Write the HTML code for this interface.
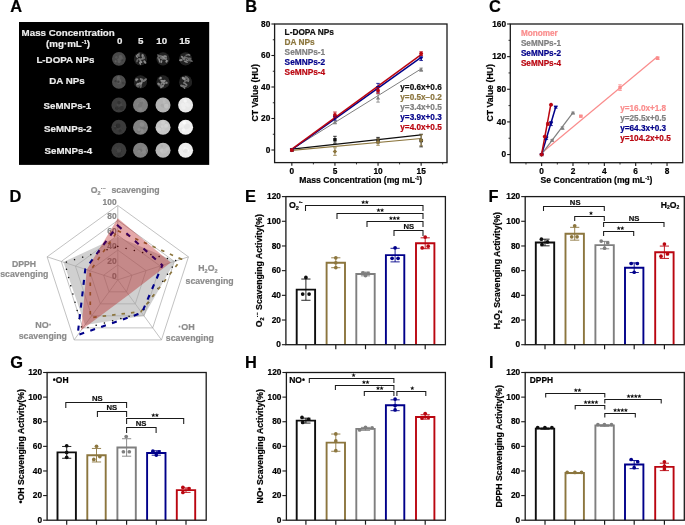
<!DOCTYPE html><html><head><meta charset="utf-8"><style>html,body{margin:0;padding:0;background:#fff;width:685px;height:525px;overflow:hidden}svg{display:block;will-change:transform}</style></head><body><svg width="685" height="525" viewBox="0 0 685 525" font-family='"Liberation Sans", sans-serif'>
<defs><filter id="blur1" x="-30%" y="-30%" width="160%" height="160%"><feGaussianBlur stdDeviation="0.6"/></filter><filter id="blur3" x="-30%" y="-30%" width="160%" height="160%"><feGaussianBlur stdDeviation="0.75"/></filter><filter id="blur2" x="-30%" y="-30%" width="160%" height="160%"><feGaussianBlur stdDeviation="0.55"/></filter></defs>
<rect width="685" height="525" fill="#fff"/>
<rect x="19" y="22" width="190.2" height="142.9" fill="#000"/>
<text x="68.20" y="36.00" font-size="9.75" fill="#ececec" text-anchor="middle" font-weight="bold"  stroke="#ececec" stroke-width="0.2">Mass Concentration</text>
<text x="68" y="47.3" font-size="9.75" fill="#ececec" text-anchor="middle" font-weight="bold" stroke="#ececec" stroke-width="0.2">(mg·mL<tspan font-size="5.5" dy="-3.5">-1</tspan><tspan dy="3.5">)</tspan></text>
<text x="119.60" y="44.40" font-size="9.75" fill="#ececec" text-anchor="middle" font-weight="bold"  stroke="#ececec" stroke-width="0.2">0</text>
<text x="140.60" y="44.40" font-size="9.75" fill="#ececec" text-anchor="middle" font-weight="bold"  stroke="#ececec" stroke-width="0.2">5</text>
<text x="161.70" y="44.40" font-size="9.75" fill="#ececec" text-anchor="middle" font-weight="bold"  stroke="#ececec" stroke-width="0.2">10</text>
<text x="184.60" y="44.40" font-size="9.75" fill="#ececec" text-anchor="middle" font-weight="bold"  stroke="#ececec" stroke-width="0.2">15</text>
<text x="65.40" y="62.80" font-size="9.75" fill="#ececec" text-anchor="middle" font-weight="bold"  stroke="#ececec" stroke-width="0.2">L-DOPA NPs</text>
<text x="67.00" y="84.10" font-size="9.75" fill="#ececec" text-anchor="middle" font-weight="bold"  stroke="#ececec" stroke-width="0.2">DA NPs</text>
<text x="67.40" y="108.90" font-size="9.75" fill="#ececec" text-anchor="middle" font-weight="bold"  stroke="#ececec" stroke-width="0.2">SeMNPs-1</text>
<text x="67.90" y="131.90" font-size="9.75" fill="#ececec" text-anchor="middle" font-weight="bold"  stroke="#ececec" stroke-width="0.2">SeMNPs-2</text>
<text x="68.30" y="154.20" font-size="9.75" fill="#ececec" text-anchor="middle" font-weight="bold"  stroke="#ececec" stroke-width="0.2">SeMNPs-4</text>
<g filter="url(#blur2)"><circle cx="118.9" cy="58.8" r="6.9" fill="rgb(74,74,74)"/>
<circle cx="119.1" cy="61.5" r="1.5" fill="rgb(94,94,94)"/>
<circle cx="116.3" cy="57.3" r="1.2" fill="rgb(87,87,87)"/>
<circle cx="121.3" cy="58.7" r="1.9" fill="rgb(88,88,88)"/>
<circle cx="119.0" cy="59.6" r="1.7" fill="rgb(92,92,92)"/>
<circle cx="122.4" cy="60.3" r="1.0" fill="rgb(60,60,60)"/>
<circle cx="120.5" cy="57.0" r="1.9" fill="rgb(92,92,92)"/>
<circle cx="115.7" cy="61.3" r="1.1" fill="rgb(95,95,95)"/>
</g>
<g filter="url(#blur2)"><circle cx="140.5" cy="58.8" r="6.6" fill="rgb(34,34,34)"/>
<ellipse cx="139.8" cy="59.6" rx="2.0" ry="1.1" transform="rotate(46 139.8 59.6)" fill="rgb(119,119,119)"/>
<ellipse cx="142.7" cy="55.9" rx="1.8" ry="0.9" transform="rotate(103 142.7 55.9)" fill="rgb(136,136,136)"/>
<ellipse cx="140.9" cy="62.0" rx="1.5" ry="1.0" transform="rotate(5 140.9 62.0)" fill="rgb(140,140,140)"/>
<ellipse cx="138.9" cy="54.4" rx="1.9" ry="0.8" transform="rotate(98 138.9 54.4)" fill="rgb(111,111,111)"/>
<ellipse cx="138.0" cy="55.1" rx="1.3" ry="0.9" transform="rotate(48 138.0 55.1)" fill="rgb(144,144,144)"/>
<ellipse cx="138.0" cy="55.8" rx="2.3" ry="0.7" transform="rotate(12 138.0 55.8)" fill="rgb(112,112,112)"/>
<ellipse cx="137.3" cy="60.4" rx="2.1" ry="0.9" transform="rotate(109 137.3 60.4)" fill="rgb(100,100,100)"/>
<ellipse cx="136.9" cy="56.7" rx="1.5" ry="0.7" transform="rotate(50 136.9 56.7)" fill="rgb(141,141,141)"/>
<ellipse cx="142.3" cy="58.9" rx="2.4" ry="0.8" transform="rotate(171 142.3 58.9)" fill="rgb(121,121,121)"/>
<ellipse cx="140.1" cy="63.4" rx="1.6" ry="0.8" transform="rotate(61 140.1 63.4)" fill="rgb(143,143,143)"/>
<ellipse cx="142.7" cy="56.2" rx="2.2" ry="1.0" transform="rotate(70 142.7 56.2)" fill="rgb(138,138,138)"/>
<ellipse cx="144.9" cy="62.1" rx="2.0" ry="1.1" transform="rotate(49 144.9 62.1)" fill="rgb(135,135,135)"/>
<ellipse cx="143.9" cy="57.4" rx="1.6" ry="1.1" transform="rotate(55 143.9 57.4)" fill="rgb(107,107,107)"/>
</g>
<g filter="url(#blur2)"><circle cx="163.0" cy="58.8" r="6.6" fill="rgb(34,34,34)"/>
<ellipse cx="166.1" cy="58.6" rx="1.4" ry="1.0" transform="rotate(106 166.1 58.6)" fill="rgb(113,113,113)"/>
<ellipse cx="161.4" cy="61.7" rx="1.5" ry="0.9" transform="rotate(110 161.4 61.7)" fill="rgb(140,140,140)"/>
<ellipse cx="158.4" cy="55.9" rx="2.0" ry="0.8" transform="rotate(66 158.4 55.9)" fill="rgb(96,96,96)"/>
<ellipse cx="161.1" cy="57.4" rx="2.2" ry="0.8" transform="rotate(136 161.1 57.4)" fill="rgb(104,104,104)"/>
<ellipse cx="163.4" cy="57.0" rx="2.0" ry="0.8" transform="rotate(175 163.4 57.0)" fill="rgb(135,135,135)"/>
<ellipse cx="158.5" cy="58.8" rx="2.0" ry="1.0" transform="rotate(59 158.5 58.8)" fill="rgb(108,108,108)"/>
<ellipse cx="166.6" cy="61.3" rx="1.5" ry="1.1" transform="rotate(121 166.6 61.3)" fill="rgb(142,142,142)"/>
<ellipse cx="164.5" cy="58.4" rx="1.9" ry="0.8" transform="rotate(39 164.5 58.4)" fill="rgb(132,132,132)"/>
<ellipse cx="163.2" cy="57.8" rx="2.2" ry="1.0" transform="rotate(57 163.2 57.8)" fill="rgb(142,142,142)"/>
<ellipse cx="165.1" cy="56.3" rx="1.9" ry="1.0" transform="rotate(15 165.1 56.3)" fill="rgb(136,136,136)"/>
<ellipse cx="159.5" cy="60.7" rx="2.0" ry="0.8" transform="rotate(84 159.5 60.7)" fill="rgb(137,137,137)"/>
<ellipse cx="162.0" cy="58.4" rx="1.8" ry="1.1" transform="rotate(36 162.0 58.4)" fill="rgb(115,115,115)"/>
<ellipse cx="160.1" cy="56.0" rx="2.1" ry="0.7" transform="rotate(177 160.1 56.0)" fill="rgb(122,122,122)"/>
</g>
<g filter="url(#blur2)"><circle cx="185.6" cy="58.8" r="6.6" fill="rgb(34,34,34)"/>
<ellipse cx="180.9" cy="60.1" rx="1.9" ry="1.1" transform="rotate(173 180.9 60.1)" fill="rgb(132,132,132)"/>
<ellipse cx="188.9" cy="54.8" rx="1.5" ry="0.7" transform="rotate(22 188.9 54.8)" fill="rgb(143,143,143)"/>
<ellipse cx="186.9" cy="55.0" rx="1.7" ry="0.7" transform="rotate(159 186.9 55.0)" fill="rgb(104,104,104)"/>
<ellipse cx="183.7" cy="59.0" rx="1.2" ry="1.0" transform="rotate(43 183.7 59.0)" fill="rgb(120,120,120)"/>
<ellipse cx="190.7" cy="60.6" rx="2.4" ry="1.0" transform="rotate(23 190.7 60.6)" fill="rgb(100,100,100)"/>
<ellipse cx="186.1" cy="57.5" rx="2.3" ry="0.8" transform="rotate(22 186.1 57.5)" fill="rgb(106,106,106)"/>
<ellipse cx="185.8" cy="61.7" rx="2.3" ry="0.9" transform="rotate(23 185.8 61.7)" fill="rgb(139,139,139)"/>
<ellipse cx="182.4" cy="57.3" rx="1.9" ry="1.0" transform="rotate(45 182.4 57.3)" fill="rgb(132,132,132)"/>
<ellipse cx="188.6" cy="59.8" rx="2.1" ry="0.7" transform="rotate(154 188.6 59.8)" fill="rgb(135,135,135)"/>
<ellipse cx="189.3" cy="60.0" rx="1.8" ry="0.9" transform="rotate(128 189.3 60.0)" fill="rgb(96,96,96)"/>
<ellipse cx="186.4" cy="60.1" rx="1.6" ry="0.8" transform="rotate(70 186.4 60.1)" fill="rgb(114,114,114)"/>
<ellipse cx="189.3" cy="58.5" rx="2.1" ry="1.1" transform="rotate(1 189.3 58.5)" fill="rgb(101,101,101)"/>
<ellipse cx="184.5" cy="58.3" rx="1.8" ry="1.0" transform="rotate(117 184.5 58.3)" fill="rgb(118,118,118)"/>
</g>
<g filter="url(#blur2)"><circle cx="118.9" cy="81.9" r="6.9" fill="rgb(78,78,78)"/>
<circle cx="123.2" cy="83.1" r="1.5" fill="rgb(63,63,63)"/>
<circle cx="118.3" cy="79.9" r="1.2" fill="rgb(93,93,93)"/>
<circle cx="115.5" cy="81.1" r="1.2" fill="rgb(58,58,58)"/>
<circle cx="119.0" cy="82.0" r="1.9" fill="rgb(92,92,92)"/>
<circle cx="119.2" cy="80.6" r="1.9" fill="rgb(96,96,96)"/>
<circle cx="118.4" cy="77.7" r="1.7" fill="rgb(96,96,96)"/>
<circle cx="118.4" cy="81.7" r="1.2" fill="rgb(62,62,62)"/>
</g>
<g filter="url(#blur2)"><circle cx="140.5" cy="81.9" r="6.6" fill="rgb(34,34,34)"/>
<ellipse cx="137.4" cy="84.5" rx="1.7" ry="1.1" transform="rotate(119 137.4 84.5)" fill="rgb(123,123,123)"/>
<ellipse cx="137.7" cy="86.2" rx="1.8" ry="1.0" transform="rotate(21 137.7 86.2)" fill="rgb(96,96,96)"/>
<ellipse cx="139.8" cy="84.9" rx="1.9" ry="1.0" transform="rotate(179 139.8 84.9)" fill="rgb(99,99,99)"/>
<ellipse cx="140.8" cy="86.1" rx="1.9" ry="1.1" transform="rotate(100 140.8 86.1)" fill="rgb(99,99,99)"/>
<ellipse cx="141.2" cy="83.3" rx="1.7" ry="1.1" transform="rotate(116 141.2 83.3)" fill="rgb(144,144,144)"/>
<ellipse cx="143.1" cy="80.9" rx="1.9" ry="1.2" transform="rotate(169 143.1 80.9)" fill="rgb(124,124,124)"/>
<ellipse cx="138.6" cy="83.8" rx="2.4" ry="0.9" transform="rotate(152 138.6 83.8)" fill="rgb(141,141,141)"/>
<ellipse cx="136.6" cy="80.1" rx="1.4" ry="0.9" transform="rotate(123 136.6 80.1)" fill="rgb(141,141,141)"/>
<ellipse cx="142.2" cy="80.4" rx="2.0" ry="1.2" transform="rotate(87 142.2 80.4)" fill="rgb(119,119,119)"/>
<ellipse cx="136.1" cy="79.2" rx="1.4" ry="1.0" transform="rotate(135 136.1 79.2)" fill="rgb(101,101,101)"/>
<ellipse cx="145.2" cy="79.8" rx="2.0" ry="1.1" transform="rotate(140 145.2 79.8)" fill="rgb(121,121,121)"/>
<ellipse cx="137.0" cy="79.5" rx="1.6" ry="0.8" transform="rotate(160 137.0 79.5)" fill="rgb(144,144,144)"/>
<ellipse cx="141.3" cy="79.5" rx="1.8" ry="1.1" transform="rotate(43 141.3 79.5)" fill="rgb(123,123,123)"/>
</g>
<g filter="url(#blur2)"><circle cx="163.0" cy="81.9" r="6.6" fill="rgb(34,34,34)"/>
<ellipse cx="158.9" cy="84.2" rx="1.9" ry="1.2" transform="rotate(37 158.9 84.2)" fill="rgb(130,130,130)"/>
<ellipse cx="162.5" cy="81.1" rx="2.3" ry="1.1" transform="rotate(13 162.5 81.1)" fill="rgb(144,144,144)"/>
<ellipse cx="163.9" cy="81.1" rx="2.0" ry="1.1" transform="rotate(160 163.9 81.1)" fill="rgb(140,140,140)"/>
<ellipse cx="165.4" cy="83.0" rx="2.1" ry="0.8" transform="rotate(160 165.4 83.0)" fill="rgb(107,107,107)"/>
<ellipse cx="159.7" cy="78.7" rx="1.4" ry="0.7" transform="rotate(168 159.7 78.7)" fill="rgb(96,96,96)"/>
<ellipse cx="163.7" cy="83.4" rx="1.5" ry="1.2" transform="rotate(21 163.7 83.4)" fill="rgb(134,134,134)"/>
<ellipse cx="166.7" cy="82.7" rx="1.2" ry="0.9" transform="rotate(61 166.7 82.7)" fill="rgb(131,131,131)"/>
<ellipse cx="161.9" cy="83.0" rx="1.8" ry="0.8" transform="rotate(134 161.9 83.0)" fill="rgb(127,127,127)"/>
<ellipse cx="160.8" cy="86.7" rx="1.7" ry="1.0" transform="rotate(78 160.8 86.7)" fill="rgb(98,98,98)"/>
<ellipse cx="163.0" cy="86.0" rx="1.6" ry="0.9" transform="rotate(122 163.0 86.0)" fill="rgb(130,130,130)"/>
<ellipse cx="160.6" cy="78.0" rx="1.3" ry="1.2" transform="rotate(147 160.6 78.0)" fill="rgb(142,142,142)"/>
<ellipse cx="160.8" cy="85.5" rx="1.8" ry="0.7" transform="rotate(120 160.8 85.5)" fill="rgb(121,121,121)"/>
<ellipse cx="161.7" cy="86.5" rx="2.1" ry="0.8" transform="rotate(116 161.7 86.5)" fill="rgb(132,132,132)"/>
</g>
<g filter="url(#blur2)"><circle cx="185.6" cy="81.9" r="6.6" fill="rgb(34,34,34)"/>
<ellipse cx="181.9" cy="85.8" rx="1.9" ry="1.2" transform="rotate(19 181.9 85.8)" fill="rgb(117,117,117)"/>
<ellipse cx="182.8" cy="78.3" rx="1.4" ry="0.9" transform="rotate(54 182.8 78.3)" fill="rgb(116,116,116)"/>
<ellipse cx="186.5" cy="77.3" rx="1.9" ry="1.0" transform="rotate(33 186.5 77.3)" fill="rgb(100,100,100)"/>
<ellipse cx="184.2" cy="83.0" rx="1.4" ry="0.9" transform="rotate(10 184.2 83.0)" fill="rgb(108,108,108)"/>
<ellipse cx="185.0" cy="86.5" rx="2.3" ry="0.9" transform="rotate(158 185.0 86.5)" fill="rgb(120,120,120)"/>
<ellipse cx="186.1" cy="80.5" rx="1.4" ry="1.0" transform="rotate(179 186.1 80.5)" fill="rgb(119,119,119)"/>
<ellipse cx="183.8" cy="78.1" rx="2.0" ry="1.0" transform="rotate(20 183.8 78.1)" fill="rgb(140,140,140)"/>
<ellipse cx="183.9" cy="78.8" rx="1.9" ry="1.1" transform="rotate(23 183.9 78.8)" fill="rgb(144,144,144)"/>
<ellipse cx="186.8" cy="78.0" rx="2.2" ry="0.9" transform="rotate(32 186.8 78.0)" fill="rgb(103,103,103)"/>
<ellipse cx="184.2" cy="86.9" rx="2.2" ry="0.9" transform="rotate(73 184.2 86.9)" fill="rgb(117,117,117)"/>
<ellipse cx="188.2" cy="80.2" rx="2.0" ry="1.1" transform="rotate(95 188.2 80.2)" fill="rgb(119,119,119)"/>
<ellipse cx="185.1" cy="81.1" rx="1.3" ry="1.1" transform="rotate(114 185.1 81.1)" fill="rgb(104,104,104)"/>
<ellipse cx="185.8" cy="84.2" rx="2.1" ry="0.8" transform="rotate(36 185.8 84.2)" fill="rgb(126,126,126)"/>
</g>
<g filter="url(#blur3)"><circle cx="118.9" cy="105.0" r="7.5" fill="rgb(60,60,60)"/>
<circle cx="120.6" cy="100.9" r="1.6" fill="rgb(65,65,65)"/>
<circle cx="118.5" cy="104.4" r="2.0" fill="rgb(71,71,71)"/>
<circle cx="120.5" cy="105.5" r="1.8" fill="rgb(50,50,50)"/>
<circle cx="120.5" cy="105.2" r="2.1" fill="rgb(71,71,71)"/>
<circle cx="121.6" cy="108.1" r="2.2" fill="rgb(49,49,49)"/>
<circle cx="116.8" cy="108.2" r="1.8" fill="rgb(48,48,48)"/>
<circle cx="119.0" cy="102.7" r="1.7" fill="rgb(48,48,48)"/>
</g>
<g filter="url(#blur3)"><circle cx="140.5" cy="105.0" r="7.5" fill="rgb(126,126,126)"/>
<circle cx="142.4" cy="102.2" r="2.1" fill="rgb(134,134,134)"/>
<circle cx="138.5" cy="104.5" r="1.8" fill="rgb(133,133,133)"/>
<circle cx="140.6" cy="103.1" r="1.2" fill="rgb(117,117,117)"/>
<circle cx="140.3" cy="109.1" r="2.0" fill="rgb(135,135,135)"/>
<circle cx="140.5" cy="105.0" r="1.7" fill="rgb(118,118,118)"/>
<circle cx="142.1" cy="103.0" r="1.4" fill="rgb(119,119,119)"/>
<circle cx="139.8" cy="105.5" r="2.0" fill="rgb(119,119,119)"/>
</g>
<g filter="url(#blur3)"><circle cx="163.0" cy="105.0" r="7.5" fill="rgb(180,180,180)"/>
<circle cx="162.2" cy="105.3" r="1.6" fill="rgb(171,171,171)"/>
<circle cx="166.4" cy="105.7" r="1.7" fill="rgb(171,171,171)"/>
<circle cx="167.6" cy="105.8" r="1.7" fill="rgb(173,173,173)"/>
<circle cx="163.6" cy="106.5" r="1.4" fill="rgb(172,172,172)"/>
<circle cx="166.3" cy="106.1" r="2.4" fill="rgb(192,192,192)"/>
<circle cx="164.1" cy="100.5" r="1.5" fill="rgb(186,186,186)"/>
<circle cx="164.2" cy="102.2" r="1.3" fill="rgb(187,187,187)"/>
</g>
<g filter="url(#blur3)"><circle cx="185.6" cy="105.0" r="7.5" fill="rgb(232,232,232)"/>
<circle cx="185.2" cy="105.2" r="2.1" fill="rgb(226,226,226)"/>
<circle cx="188.0" cy="105.3" r="2.1" fill="rgb(237,237,237)"/>
<circle cx="186.4" cy="104.4" r="1.8" fill="rgb(239,239,239)"/>
<circle cx="183.7" cy="107.5" r="2.0" fill="rgb(239,239,239)"/>
<circle cx="186.0" cy="104.9" r="1.7" fill="rgb(238,238,238)"/>
<circle cx="183.0" cy="104.9" r="2.2" fill="rgb(238,238,238)"/>
<circle cx="185.2" cy="101.0" r="1.7" fill="rgb(244,244,244)"/>
</g>
<g filter="url(#blur3)"><circle cx="118.9" cy="127.2" r="7.5" fill="rgb(58,58,58)"/>
<circle cx="118.0" cy="127.8" r="2.3" fill="rgb(65,65,65)"/>
<circle cx="115.3" cy="127.0" r="1.3" fill="rgb(70,70,70)"/>
<circle cx="120.6" cy="130.4" r="2.1" fill="rgb(63,63,63)"/>
<circle cx="118.1" cy="125.9" r="2.3" fill="rgb(45,45,45)"/>
<circle cx="114.8" cy="128.5" r="1.2" fill="rgb(70,70,70)"/>
<circle cx="120.2" cy="130.8" r="1.6" fill="rgb(50,50,50)"/>
<circle cx="115.1" cy="128.4" r="1.3" fill="rgb(51,51,51)"/>
</g>
<g filter="url(#blur3)"><circle cx="140.5" cy="127.2" r="7.5" fill="rgb(130,130,130)"/>
<circle cx="142.3" cy="129.7" r="1.6" fill="rgb(124,124,124)"/>
<circle cx="141.5" cy="131.1" r="2.4" fill="rgb(139,139,139)"/>
<circle cx="138.7" cy="131.0" r="2.0" fill="rgb(121,121,121)"/>
<circle cx="144.2" cy="128.2" r="1.3" fill="rgb(118,118,118)"/>
<circle cx="141.6" cy="126.8" r="1.5" fill="rgb(121,121,121)"/>
<circle cx="141.9" cy="124.6" r="2.3" fill="rgb(141,141,141)"/>
<circle cx="138.9" cy="129.6" r="1.6" fill="rgb(141,141,141)"/>
</g>
<g filter="url(#blur3)"><circle cx="163.0" cy="127.2" r="7.5" fill="rgb(198,198,198)"/>
<circle cx="165.0" cy="126.5" r="1.9" fill="rgb(204,204,204)"/>
<circle cx="159.6" cy="128.0" r="1.4" fill="rgb(190,190,190)"/>
<circle cx="163.1" cy="122.8" r="2.0" fill="rgb(206,206,206)"/>
<circle cx="162.2" cy="126.6" r="1.3" fill="rgb(209,209,209)"/>
<circle cx="163.2" cy="129.3" r="1.4" fill="rgb(204,204,204)"/>
<circle cx="166.2" cy="125.7" r="1.9" fill="rgb(210,210,210)"/>
<circle cx="159.0" cy="129.4" r="2.2" fill="rgb(206,206,206)"/>
</g>
<g filter="url(#blur3)"><circle cx="185.6" cy="127.2" r="7.5" fill="rgb(240,240,240)"/>
<circle cx="181.6" cy="129.8" r="2.4" fill="rgb(232,232,232)"/>
<circle cx="185.8" cy="127.6" r="1.9" fill="rgb(232,232,232)"/>
<circle cx="185.5" cy="127.1" r="1.8" fill="rgb(232,232,232)"/>
<circle cx="183.6" cy="130.1" r="1.8" fill="rgb(246,246,246)"/>
<circle cx="187.4" cy="126.0" r="2.2" fill="rgb(233,233,233)"/>
<circle cx="184.2" cy="122.7" r="1.8" fill="rgb(252,252,252)"/>
<circle cx="187.7" cy="126.4" r="2.3" fill="rgb(232,232,232)"/>
</g>
<g filter="url(#blur3)"><circle cx="118.9" cy="150.3" r="7.5" fill="rgb(58,58,58)"/>
<circle cx="118.4" cy="152.5" r="1.6" fill="rgb(69,69,69)"/>
<circle cx="119.1" cy="154.2" r="2.0" fill="rgb(52,52,52)"/>
<circle cx="119.0" cy="150.4" r="2.5" fill="rgb(52,52,52)"/>
<circle cx="119.4" cy="148.7" r="1.2" fill="rgb(70,70,70)"/>
<circle cx="118.9" cy="150.4" r="2.3" fill="rgb(70,70,70)"/>
<circle cx="115.8" cy="147.9" r="1.5" fill="rgb(65,65,65)"/>
<circle cx="119.5" cy="148.4" r="1.2" fill="rgb(65,65,65)"/>
</g>
<g filter="url(#blur3)"><circle cx="140.5" cy="150.3" r="7.5" fill="rgb(128,128,128)"/>
<circle cx="145.1" cy="151.4" r="2.3" fill="rgb(115,115,115)"/>
<circle cx="140.5" cy="151.0" r="2.3" fill="rgb(137,137,137)"/>
<circle cx="139.2" cy="149.9" r="1.8" fill="rgb(122,122,122)"/>
<circle cx="144.1" cy="151.8" r="2.1" fill="rgb(136,136,136)"/>
<circle cx="144.0" cy="148.6" r="2.0" fill="rgb(135,135,135)"/>
<circle cx="140.4" cy="150.6" r="1.9" fill="rgb(115,115,115)"/>
<circle cx="139.1" cy="151.2" r="1.5" fill="rgb(135,135,135)"/>
</g>
<g filter="url(#blur3)"><circle cx="163.0" cy="150.3" r="7.5" fill="rgb(184,184,184)"/>
<circle cx="162.5" cy="152.8" r="1.2" fill="rgb(190,190,190)"/>
<circle cx="161.9" cy="150.4" r="2.0" fill="rgb(196,196,196)"/>
<circle cx="165.7" cy="150.8" r="1.6" fill="rgb(175,175,175)"/>
<circle cx="161.9" cy="146.1" r="1.3" fill="rgb(175,175,175)"/>
<circle cx="165.3" cy="150.8" r="2.4" fill="rgb(190,190,190)"/>
<circle cx="163.8" cy="152.0" r="1.6" fill="rgb(191,191,191)"/>
<circle cx="167.3" cy="148.9" r="1.9" fill="rgb(193,193,193)"/>
</g>
<g filter="url(#blur3)"><circle cx="185.6" cy="150.3" r="7.5" fill="rgb(238,238,238)"/>
<circle cx="187.6" cy="150.7" r="1.3" fill="rgb(250,250,250)"/>
<circle cx="185.7" cy="151.3" r="1.3" fill="rgb(227,227,227)"/>
<circle cx="185.2" cy="149.9" r="2.5" fill="rgb(225,225,225)"/>
<circle cx="184.9" cy="148.4" r="1.6" fill="rgb(246,246,246)"/>
<circle cx="184.8" cy="150.0" r="1.4" fill="rgb(250,250,250)"/>
<circle cx="186.3" cy="149.8" r="2.0" fill="rgb(248,248,248)"/>
<circle cx="185.8" cy="150.5" r="2.0" fill="rgb(230,230,230)"/>
</g>
<text x="360.8" y="182.8" font-size="8.6" text-anchor="middle" font-weight="bold" stroke="#000" stroke-width="0.2">Mass Concentration (mg mL<tspan font-size="5" dy="-3.2">-1</tspan><tspan dy="3.2">)</tspan></text>
<text transform="translate(257.6,92.9) rotate(-90)" x="0" y="0" font-size="8.7" text-anchor="middle" font-weight="bold" stroke="#000" stroke-width="0.2">CT Value (HU)</text>
<text x="284.60" y="34.60" font-size="8.3" fill="#0e0e0e" text-anchor="start" font-weight="bold"  stroke="#0e0e0e" stroke-width="0.2">L-DOPA NPs</text>
<text x="284.60" y="44.70" font-size="8.3" fill="#8c763e" text-anchor="start" font-weight="bold"  stroke="#8c763e" stroke-width="0.2">DA NPs</text>
<text x="284.60" y="54.80" font-size="8.3" fill="#7f7f7f" text-anchor="start" font-weight="bold"  stroke="#7f7f7f" stroke-width="0.2">SeMNPs-1</text>
<text x="284.60" y="64.90" font-size="8.3" fill="#00008a" text-anchor="start" font-weight="bold"  stroke="#00008a" stroke-width="0.2">SeMNPs-2</text>
<text x="284.60" y="75.00" font-size="8.3" fill="#ba0610" text-anchor="start" font-weight="bold"  stroke="#ba0610" stroke-width="0.2">SeMNPs-4</text>
<text x="400.30" y="89.80" font-size="8.2" fill="#0e0e0e" text-anchor="start" font-weight="bold"  stroke="#0e0e0e" stroke-width="0.2">y=0.6x+0.6</text>
<text x="400.30" y="99.80" font-size="8.2" fill="#8c763e" text-anchor="start" font-weight="bold"  stroke="#8c763e" stroke-width="0.2">y=0.5x−0.2</text>
<text x="400.30" y="109.80" font-size="8.2" fill="#7f7f7f" text-anchor="start" font-weight="bold"  stroke="#7f7f7f" stroke-width="0.2">y=3.4x+0.5</text>
<text x="400.30" y="119.80" font-size="8.2" fill="#00008a" text-anchor="start" font-weight="bold"  stroke="#00008a" stroke-width="0.2">y=3.9x+0.3</text>
<text x="400.30" y="129.80" font-size="8.2" fill="#ba0610" text-anchor="start" font-weight="bold"  stroke="#ba0610" stroke-width="0.2">y=4.0x+0.5</text>
<line x1="291.84" y1="149.06" x2="421.14" y2="134.88" stroke="#0e0e0e" stroke-width="1.2" />
<line x1="291.84" y1="150.31" x2="421.14" y2="138.50" stroke="#8c763e" stroke-width="1.2" />
<line x1="291.84" y1="149.21" x2="421.14" y2="68.89" stroke="#7f7f7f" stroke-width="1.0" />
<line x1="291.84" y1="149.53" x2="421.14" y2="57.39" stroke="#00008a" stroke-width="1.5" />
<line x1="291.84" y1="149.21" x2="421.14" y2="54.71" stroke="#ba0610" stroke-width="1.5" />
<line x1="291.84" y1="150.79" x2="291.84" y2="149.21" stroke="#0e0e0e" stroke-width="0.8" />
<line x1="290.04" y1="150.79" x2="293.64" y2="150.79" stroke="#0e0e0e" stroke-width="0.8" />
<line x1="290.04" y1="149.21" x2="293.64" y2="149.21" stroke="#0e0e0e" stroke-width="0.8" />
<rect x="290.14" y="148.30" width="3.40" height="3.40" fill="#0e0e0e"/>
<line x1="334.94" y1="143.23" x2="334.94" y2="136.30" stroke="#0e0e0e" stroke-width="0.8" />
<line x1="333.14" y1="143.23" x2="336.74" y2="143.23" stroke="#0e0e0e" stroke-width="0.8" />
<line x1="333.14" y1="136.30" x2="336.74" y2="136.30" stroke="#0e0e0e" stroke-width="0.8" />
<rect x="333.24" y="138.06" width="3.40" height="3.40" fill="#0e0e0e"/>
<line x1="378.04" y1="143.07" x2="378.04" y2="137.40" stroke="#0e0e0e" stroke-width="0.8" />
<line x1="376.24" y1="143.07" x2="379.84" y2="143.07" stroke="#0e0e0e" stroke-width="0.8" />
<line x1="376.24" y1="137.40" x2="379.84" y2="137.40" stroke="#0e0e0e" stroke-width="0.8" />
<rect x="376.34" y="138.53" width="3.40" height="3.40" fill="#0e0e0e"/>
<line x1="421.14" y1="146.85" x2="421.14" y2="134.25" stroke="#0e0e0e" stroke-width="0.8" />
<line x1="419.34" y1="146.85" x2="422.94" y2="146.85" stroke="#0e0e0e" stroke-width="0.8" />
<line x1="419.34" y1="134.25" x2="422.94" y2="134.25" stroke="#0e0e0e" stroke-width="0.8" />
<rect x="419.44" y="138.85" width="3.40" height="3.40" fill="#0e0e0e"/>
<line x1="291.84" y1="150.79" x2="291.84" y2="149.21" stroke="#8c763e" stroke-width="0.8" />
<line x1="290.04" y1="150.79" x2="293.64" y2="150.79" stroke="#8c763e" stroke-width="0.8" />
<line x1="290.04" y1="149.21" x2="293.64" y2="149.21" stroke="#8c763e" stroke-width="0.8" />
<path d="M291.84 147.79L294.05 150.00L291.84 152.21L289.63 150.00Z" fill="#8c763e"/>
<line x1="334.94" y1="155.35" x2="334.94" y2="147.79" stroke="#8c763e" stroke-width="0.8" />
<line x1="333.14" y1="155.35" x2="336.74" y2="155.35" stroke="#8c763e" stroke-width="0.8" />
<line x1="333.14" y1="147.79" x2="336.74" y2="147.79" stroke="#8c763e" stroke-width="0.8" />
<path d="M334.94 149.36L337.15 151.57L334.94 153.78L332.73 151.57Z" fill="#8c763e"/>
<line x1="378.04" y1="145.28" x2="378.04" y2="138.97" stroke="#8c763e" stroke-width="0.8" />
<line x1="376.24" y1="145.28" x2="379.84" y2="145.28" stroke="#8c763e" stroke-width="0.8" />
<line x1="376.24" y1="138.97" x2="379.84" y2="138.97" stroke="#8c763e" stroke-width="0.8" />
<path d="M378.04 139.91L380.25 142.12L378.04 144.34L375.83 142.12Z" fill="#8c763e"/>
<line x1="421.14" y1="145.75" x2="421.14" y2="134.72" stroke="#8c763e" stroke-width="0.8" />
<line x1="419.34" y1="145.75" x2="422.94" y2="145.75" stroke="#8c763e" stroke-width="0.8" />
<line x1="419.34" y1="134.72" x2="422.94" y2="134.72" stroke="#8c763e" stroke-width="0.8" />
<path d="M421.14 138.02L423.35 140.23L421.14 142.44L418.93 140.23Z" fill="#8c763e"/>
<line x1="291.84" y1="150.79" x2="291.84" y2="149.21" stroke="#7f7f7f" stroke-width="0.8" />
<line x1="290.04" y1="150.79" x2="293.64" y2="150.79" stroke="#7f7f7f" stroke-width="0.8" />
<line x1="290.04" y1="149.21" x2="293.64" y2="149.21" stroke="#7f7f7f" stroke-width="0.8" />
<path d="M291.84 147.88L293.97 151.59L289.72 151.59Z" fill="#7f7f7f"/>
<line x1="334.94" y1="123.85" x2="334.94" y2="120.70" stroke="#7f7f7f" stroke-width="0.8" />
<line x1="333.14" y1="123.85" x2="336.74" y2="123.85" stroke="#7f7f7f" stroke-width="0.8" />
<line x1="333.14" y1="120.70" x2="336.74" y2="120.70" stroke="#7f7f7f" stroke-width="0.8" />
<path d="M334.94 120.16L337.06 123.87L332.81 123.87Z" fill="#7f7f7f"/>
<line x1="378.04" y1="102.12" x2="378.04" y2="93.93" stroke="#7f7f7f" stroke-width="0.8" />
<line x1="376.24" y1="102.12" x2="379.84" y2="102.12" stroke="#7f7f7f" stroke-width="0.8" />
<line x1="376.24" y1="93.93" x2="379.84" y2="93.93" stroke="#7f7f7f" stroke-width="0.8" />
<path d="M378.04 95.90L380.17 99.62L375.92 99.62Z" fill="#7f7f7f"/>
<line x1="421.14" y1="71.25" x2="421.14" y2="68.10" stroke="#7f7f7f" stroke-width="0.8" />
<line x1="419.34" y1="71.25" x2="422.94" y2="71.25" stroke="#7f7f7f" stroke-width="0.8" />
<line x1="419.34" y1="68.10" x2="422.94" y2="68.10" stroke="#7f7f7f" stroke-width="0.8" />
<path d="M421.14 67.55L423.26 71.27L419.01 71.27Z" fill="#7f7f7f"/>
<line x1="291.84" y1="150.79" x2="291.84" y2="149.21" stroke="#00008a" stroke-width="0.8" />
<line x1="290.04" y1="150.79" x2="293.64" y2="150.79" stroke="#00008a" stroke-width="0.8" />
<line x1="290.04" y1="149.21" x2="293.64" y2="149.21" stroke="#00008a" stroke-width="0.8" />
<path d="M291.84 152.12L293.97 148.41L289.72 148.41Z" fill="#00008a"/>
<line x1="334.94" y1="120.07" x2="334.94" y2="115.35" stroke="#00008a" stroke-width="0.8" />
<line x1="333.14" y1="120.07" x2="336.74" y2="120.07" stroke="#00008a" stroke-width="0.8" />
<line x1="333.14" y1="115.35" x2="336.74" y2="115.35" stroke="#00008a" stroke-width="0.8" />
<path d="M334.94 119.84L337.06 116.12L332.81 116.12Z" fill="#00008a"/>
<line x1="378.04" y1="92.20" x2="378.04" y2="83.38" stroke="#00008a" stroke-width="0.8" />
<line x1="376.24" y1="92.20" x2="379.84" y2="92.20" stroke="#00008a" stroke-width="0.8" />
<line x1="376.24" y1="83.38" x2="379.84" y2="83.38" stroke="#00008a" stroke-width="0.8" />
<path d="M378.04 89.91L380.17 86.19L375.92 86.19Z" fill="#00008a"/>
<line x1="421.14" y1="60.54" x2="421.14" y2="56.13" stroke="#00008a" stroke-width="0.8" />
<line x1="419.34" y1="60.54" x2="422.94" y2="60.54" stroke="#00008a" stroke-width="0.8" />
<line x1="419.34" y1="56.13" x2="422.94" y2="56.13" stroke="#00008a" stroke-width="0.8" />
<path d="M421.14 60.46L423.26 56.74L419.01 56.74Z" fill="#00008a"/>
<line x1="291.84" y1="150.79" x2="291.84" y2="149.21" stroke="#ba0610" stroke-width="0.8" />
<line x1="290.04" y1="150.79" x2="293.64" y2="150.79" stroke="#ba0610" stroke-width="0.8" />
<line x1="290.04" y1="149.21" x2="293.64" y2="149.21" stroke="#ba0610" stroke-width="0.8" />
<circle cx="291.84" cy="150.00" r="1.90" fill="#ba0610"/>
<line x1="334.94" y1="117.71" x2="334.94" y2="112.04" stroke="#ba0610" stroke-width="0.8" />
<line x1="333.14" y1="117.71" x2="336.74" y2="117.71" stroke="#ba0610" stroke-width="0.8" />
<line x1="333.14" y1="112.04" x2="336.74" y2="112.04" stroke="#ba0610" stroke-width="0.8" />
<circle cx="334.94" cy="114.88" r="1.90" fill="#ba0610"/>
<line x1="378.04" y1="93.30" x2="378.04" y2="87.63" stroke="#ba0610" stroke-width="0.8" />
<line x1="376.24" y1="93.30" x2="379.84" y2="93.30" stroke="#ba0610" stroke-width="0.8" />
<line x1="376.24" y1="87.63" x2="379.84" y2="87.63" stroke="#ba0610" stroke-width="0.8" />
<circle cx="378.04" cy="90.47" r="1.90" fill="#ba0610"/>
<line x1="421.14" y1="55.50" x2="421.14" y2="51.72" stroke="#ba0610" stroke-width="0.8" />
<line x1="419.34" y1="55.50" x2="422.94" y2="55.50" stroke="#ba0610" stroke-width="0.8" />
<line x1="419.34" y1="51.72" x2="422.94" y2="51.72" stroke="#ba0610" stroke-width="0.8" />
<circle cx="421.14" cy="53.61" r="1.90" fill="#ba0610"/>
<rect x="274.6" y="24.0" width="172.39999999999998" height="138.6" fill="none" stroke="#1a1a1a" stroke-width="1.3"/>
<line x1="271.40" y1="150.00" x2="274.60" y2="150.00" stroke="#1a1a1a" stroke-width="1.1" />
<text x="270.30" y="152.60" font-size="8.3" fill="#000" text-anchor="end" font-weight="bold"  stroke="#000" stroke-width="0.2">0</text>
<line x1="271.40" y1="118.50" x2="274.60" y2="118.50" stroke="#1a1a1a" stroke-width="1.1" />
<text x="270.30" y="121.10" font-size="8.3" fill="#000" text-anchor="end" font-weight="bold"  stroke="#000" stroke-width="0.2">20</text>
<line x1="271.40" y1="87.00" x2="274.60" y2="87.00" stroke="#1a1a1a" stroke-width="1.1" />
<text x="270.30" y="89.60" font-size="8.3" fill="#000" text-anchor="end" font-weight="bold"  stroke="#000" stroke-width="0.2">40</text>
<line x1="271.40" y1="55.50" x2="274.60" y2="55.50" stroke="#1a1a1a" stroke-width="1.1" />
<text x="270.30" y="58.10" font-size="8.3" fill="#000" text-anchor="end" font-weight="bold"  stroke="#000" stroke-width="0.2">60</text>
<line x1="271.40" y1="24.00" x2="274.60" y2="24.00" stroke="#1a1a1a" stroke-width="1.1" />
<text x="270.30" y="26.60" font-size="8.3" fill="#000" text-anchor="end" font-weight="bold"  stroke="#000" stroke-width="0.2">80</text>
<line x1="272.80" y1="134.25" x2="274.60" y2="134.25" stroke="#1a1a1a" stroke-width="0.9" />
<line x1="272.80" y1="102.75" x2="274.60" y2="102.75" stroke="#1a1a1a" stroke-width="0.9" />
<line x1="272.80" y1="71.25" x2="274.60" y2="71.25" stroke="#1a1a1a" stroke-width="0.9" />
<line x1="272.80" y1="39.75" x2="274.60" y2="39.75" stroke="#1a1a1a" stroke-width="0.9" />
<line x1="291.84" y1="162.60" x2="291.84" y2="165.80" stroke="#1a1a1a" stroke-width="1.1" />
<text x="291.84" y="173.90" font-size="8.3" fill="#000" text-anchor="middle" font-weight="bold"  stroke="#000" stroke-width="0.2">0</text>
<line x1="334.94" y1="162.60" x2="334.94" y2="165.80" stroke="#1a1a1a" stroke-width="1.1" />
<text x="334.94" y="173.90" font-size="8.3" fill="#000" text-anchor="middle" font-weight="bold"  stroke="#000" stroke-width="0.2">5</text>
<line x1="378.04" y1="162.60" x2="378.04" y2="165.80" stroke="#1a1a1a" stroke-width="1.1" />
<text x="378.04" y="173.90" font-size="8.3" fill="#000" text-anchor="middle" font-weight="bold"  stroke="#000" stroke-width="0.2">10</text>
<line x1="421.14" y1="162.60" x2="421.14" y2="165.80" stroke="#1a1a1a" stroke-width="1.1" />
<text x="421.14" y="173.90" font-size="8.3" fill="#000" text-anchor="middle" font-weight="bold"  stroke="#000" stroke-width="0.2">15</text>
<line x1="313.39" y1="162.60" x2="313.39" y2="164.40" stroke="#1a1a1a" stroke-width="0.9" />
<line x1="356.49" y1="162.60" x2="356.49" y2="164.40" stroke="#1a1a1a" stroke-width="0.9" />
<line x1="399.59" y1="162.60" x2="399.59" y2="164.40" stroke="#1a1a1a" stroke-width="0.9" />
<line x1="442.69" y1="162.60" x2="442.69" y2="164.40" stroke="#1a1a1a" stroke-width="0.9" />
<text x="596.5" y="182.8" font-size="8.6" text-anchor="middle" font-weight="bold" stroke="#000" stroke-width="0.2">Se Concentration (mg mL<tspan font-size="5" dy="-3.2">-1</tspan><tspan dy="3.2">)</tspan></text>
<text transform="translate(493.4,92.9) rotate(-90)" x="0" y="0" font-size="8.7" text-anchor="middle" font-weight="bold" stroke="#000" stroke-width="0.2">CT Value (HU)</text>
<text x="520.90" y="35.70" font-size="8.2" fill="#fa8c8c" text-anchor="start" font-weight="bold"  stroke="#fa8c8c" stroke-width="0.2">Monomer</text>
<text x="520.90" y="45.70" font-size="8.2" fill="#7f7f7f" text-anchor="start" font-weight="bold"  stroke="#7f7f7f" stroke-width="0.2">SeMNPs-1</text>
<text x="520.90" y="55.70" font-size="8.2" fill="#00008a" text-anchor="start" font-weight="bold"  stroke="#00008a" stroke-width="0.2">SeMNPs-2</text>
<text x="520.90" y="65.70" font-size="8.2" fill="#ba0610" text-anchor="start" font-weight="bold"  stroke="#ba0610" stroke-width="0.2">SeMNPs-4</text>
<text x="620.20" y="111.00" font-size="8.2" fill="#fa8c8c" text-anchor="start" font-weight="bold"  stroke="#fa8c8c" stroke-width="0.2">y=16.0x+1.8</text>
<text x="620.20" y="121.10" font-size="8.2" fill="#7f7f7f" text-anchor="start" font-weight="bold"  stroke="#7f7f7f" stroke-width="0.2">y=25.5x+0.5</text>
<text x="620.20" y="131.20" font-size="8.2" fill="#00008a" text-anchor="start" font-weight="bold"  stroke="#00008a" stroke-width="0.2">y=64.3x+0.3</text>
<text x="620.20" y="141.30" font-size="8.2" fill="#ba0610" text-anchor="start" font-weight="bold"  stroke="#ba0610" stroke-width="0.2">y=104.2x+0.5</text>
<line x1="541.65" y1="153.07" x2="657.62" y2="56.47" stroke="#fa8c8c" stroke-width="1.2" />
<line x1="541.65" y1="154.13" x2="572.99" y2="112.52" stroke="#7f7f7f" stroke-width="1.2" />
<line x1="541.65" y1="154.30" x2="555.75" y2="107.08" stroke="#00008a" stroke-width="1.5" />
<line x1="541.65" y1="154.13" x2="551.05" y2="103.12" stroke="#ba0610" stroke-width="1.5" />
<line x1="541.65" y1="154.95" x2="541.65" y2="154.13" stroke="#fa8c8c" stroke-width="0.8" />
<line x1="539.85" y1="154.95" x2="543.45" y2="154.95" stroke="#fa8c8c" stroke-width="0.8" />
<line x1="539.85" y1="154.13" x2="543.45" y2="154.13" stroke="#fa8c8c" stroke-width="0.8" />
<rect x="539.95" y="152.84" width="3.40" height="3.40" fill="#fa8c8c"/>
<line x1="580.83" y1="116.85" x2="580.83" y2="115.54" stroke="#fa8c8c" stroke-width="0.8" />
<line x1="579.03" y1="116.85" x2="582.63" y2="116.85" stroke="#fa8c8c" stroke-width="0.8" />
<line x1="579.03" y1="115.54" x2="582.63" y2="115.54" stroke="#fa8c8c" stroke-width="0.8" />
<rect x="579.13" y="114.49" width="3.40" height="3.40" fill="#fa8c8c"/>
<line x1="620.01" y1="90.49" x2="620.01" y2="84.78" stroke="#fa8c8c" stroke-width="0.8" />
<line x1="618.21" y1="90.49" x2="621.81" y2="90.49" stroke="#fa8c8c" stroke-width="0.8" />
<line x1="618.21" y1="84.78" x2="621.81" y2="84.78" stroke="#fa8c8c" stroke-width="0.8" />
<rect x="618.31" y="85.94" width="3.40" height="3.40" fill="#fa8c8c"/>
<line x1="657.62" y1="59.49" x2="657.62" y2="57.04" stroke="#fa8c8c" stroke-width="0.8" />
<line x1="655.82" y1="59.49" x2="659.42" y2="59.49" stroke="#fa8c8c" stroke-width="0.8" />
<line x1="655.82" y1="57.04" x2="659.42" y2="57.04" stroke="#fa8c8c" stroke-width="0.8" />
<rect x="655.92" y="56.57" width="3.40" height="3.40" fill="#fa8c8c"/>
<line x1="541.65" y1="154.95" x2="541.65" y2="154.13" stroke="#7f7f7f" stroke-width="0.8" />
<line x1="539.85" y1="154.95" x2="543.45" y2="154.95" stroke="#7f7f7f" stroke-width="0.8" />
<line x1="539.85" y1="154.13" x2="543.45" y2="154.13" stroke="#7f7f7f" stroke-width="0.8" />
<path d="M541.65 152.42L543.77 156.13L539.52 156.13Z" fill="#7f7f7f"/>
<line x1="552.15" y1="141.08" x2="552.15" y2="139.45" stroke="#7f7f7f" stroke-width="0.8" />
<line x1="550.35" y1="141.08" x2="553.95" y2="141.08" stroke="#7f7f7f" stroke-width="0.8" />
<line x1="550.35" y1="139.45" x2="553.95" y2="139.45" stroke="#7f7f7f" stroke-width="0.8" />
<path d="M552.15 138.14L554.27 141.86L550.02 141.86Z" fill="#7f7f7f"/>
<line x1="562.49" y1="129.25" x2="562.49" y2="126.80" stroke="#7f7f7f" stroke-width="0.8" />
<line x1="560.69" y1="129.25" x2="564.29" y2="129.25" stroke="#7f7f7f" stroke-width="0.8" />
<line x1="560.69" y1="126.80" x2="564.29" y2="126.80" stroke="#7f7f7f" stroke-width="0.8" />
<path d="M562.49 125.90L564.62 129.62L560.37 129.62Z" fill="#7f7f7f"/>
<line x1="572.99" y1="113.75" x2="572.99" y2="112.12" stroke="#7f7f7f" stroke-width="0.8" />
<line x1="571.19" y1="113.75" x2="574.79" y2="113.75" stroke="#7f7f7f" stroke-width="0.8" />
<line x1="571.19" y1="112.12" x2="574.79" y2="112.12" stroke="#7f7f7f" stroke-width="0.8" />
<path d="M572.99 110.81L575.12 114.52L570.87 114.52Z" fill="#7f7f7f"/>
<line x1="541.65" y1="154.95" x2="541.65" y2="154.13" stroke="#00008a" stroke-width="0.8" />
<line x1="539.85" y1="154.95" x2="543.45" y2="154.95" stroke="#00008a" stroke-width="0.8" />
<line x1="539.85" y1="154.13" x2="543.45" y2="154.13" stroke="#00008a" stroke-width="0.8" />
<path d="M541.65 156.67L543.77 152.95L539.52 152.95Z" fill="#00008a"/>
<line x1="546.35" y1="139.45" x2="546.35" y2="137.00" stroke="#00008a" stroke-width="0.8" />
<line x1="544.55" y1="139.45" x2="548.15" y2="139.45" stroke="#00008a" stroke-width="0.8" />
<line x1="544.55" y1="137.00" x2="548.15" y2="137.00" stroke="#00008a" stroke-width="0.8" />
<path d="M546.35 140.35L548.47 136.63L544.22 136.63Z" fill="#00008a"/>
<line x1="551.05" y1="125.58" x2="551.05" y2="121.50" stroke="#00008a" stroke-width="0.8" />
<line x1="549.25" y1="125.58" x2="552.85" y2="125.58" stroke="#00008a" stroke-width="0.8" />
<line x1="549.25" y1="121.50" x2="552.85" y2="121.50" stroke="#00008a" stroke-width="0.8" />
<path d="M551.05 125.66L553.17 121.94L548.92 121.94Z" fill="#00008a"/>
<line x1="555.75" y1="108.20" x2="555.75" y2="106.24" stroke="#00008a" stroke-width="0.8" />
<line x1="553.95" y1="108.20" x2="557.55" y2="108.20" stroke="#00008a" stroke-width="0.8" />
<line x1="553.95" y1="106.24" x2="557.55" y2="106.24" stroke="#00008a" stroke-width="0.8" />
<path d="M555.75 109.34L557.88 105.63L553.63 105.63Z" fill="#00008a"/>
<line x1="541.65" y1="154.95" x2="541.65" y2="154.13" stroke="#ba0610" stroke-width="0.8" />
<line x1="539.85" y1="154.95" x2="543.45" y2="154.95" stroke="#ba0610" stroke-width="0.8" />
<line x1="539.85" y1="154.13" x2="543.45" y2="154.13" stroke="#ba0610" stroke-width="0.8" />
<path d="M541.65 152.33L543.86 154.54L541.65 156.75L539.44 154.54Z" fill="#ba0610"/>
<line x1="544.78" y1="137.41" x2="544.78" y2="135.78" stroke="#ba0610" stroke-width="0.8" />
<line x1="542.98" y1="137.41" x2="546.58" y2="137.41" stroke="#ba0610" stroke-width="0.8" />
<line x1="542.98" y1="135.78" x2="546.58" y2="135.78" stroke="#ba0610" stroke-width="0.8" />
<path d="M544.78 134.38L546.99 136.59L544.78 138.80L542.57 136.59Z" fill="#ba0610"/>
<line x1="547.91" y1="125.17" x2="547.91" y2="122.72" stroke="#ba0610" stroke-width="0.8" />
<line x1="546.11" y1="125.17" x2="549.71" y2="125.17" stroke="#ba0610" stroke-width="0.8" />
<line x1="546.11" y1="122.72" x2="549.71" y2="122.72" stroke="#ba0610" stroke-width="0.8" />
<path d="M547.91 121.74L550.12 123.95L547.91 126.16L545.70 123.95Z" fill="#ba0610"/>
<line x1="551.05" y1="105.59" x2="551.05" y2="103.96" stroke="#ba0610" stroke-width="0.8" />
<line x1="549.25" y1="105.59" x2="552.85" y2="105.59" stroke="#ba0610" stroke-width="0.8" />
<line x1="549.25" y1="103.96" x2="552.85" y2="103.96" stroke="#ba0610" stroke-width="0.8" />
<path d="M551.05 102.56L553.26 104.77L551.05 106.98L548.84 104.77Z" fill="#ba0610"/>
<rect x="510.3" y="24.0" width="172.40000000000003" height="138.7" fill="none" stroke="#1a1a1a" stroke-width="1.3"/>
<line x1="507.10" y1="154.54" x2="510.30" y2="154.54" stroke="#1a1a1a" stroke-width="1.1" />
<text x="506.00" y="157.14" font-size="8.3" fill="#000" text-anchor="end" font-weight="bold"  stroke="#000" stroke-width="0.2">0</text>
<line x1="507.10" y1="121.91" x2="510.30" y2="121.91" stroke="#1a1a1a" stroke-width="1.1" />
<text x="506.00" y="124.51" font-size="8.3" fill="#000" text-anchor="end" font-weight="bold"  stroke="#000" stroke-width="0.2">40</text>
<line x1="507.10" y1="89.27" x2="510.30" y2="89.27" stroke="#1a1a1a" stroke-width="1.1" />
<text x="506.00" y="91.87" font-size="8.3" fill="#000" text-anchor="end" font-weight="bold"  stroke="#000" stroke-width="0.2">80</text>
<line x1="507.10" y1="56.64" x2="510.30" y2="56.64" stroke="#1a1a1a" stroke-width="1.1" />
<text x="506.00" y="59.24" font-size="8.3" fill="#000" text-anchor="end" font-weight="bold"  stroke="#000" stroke-width="0.2">120</text>
<line x1="507.10" y1="24.00" x2="510.30" y2="24.00" stroke="#1a1a1a" stroke-width="1.1" />
<text x="506.00" y="26.60" font-size="8.3" fill="#000" text-anchor="end" font-weight="bold"  stroke="#000" stroke-width="0.2">160</text>
<line x1="508.50" y1="138.22" x2="510.30" y2="138.22" stroke="#1a1a1a" stroke-width="0.9" />
<line x1="508.50" y1="105.59" x2="510.30" y2="105.59" stroke="#1a1a1a" stroke-width="0.9" />
<line x1="508.50" y1="72.95" x2="510.30" y2="72.95" stroke="#1a1a1a" stroke-width="0.9" />
<line x1="508.50" y1="40.32" x2="510.30" y2="40.32" stroke="#1a1a1a" stroke-width="0.9" />
<line x1="541.65" y1="162.70" x2="541.65" y2="165.90" stroke="#1a1a1a" stroke-width="1.1" />
<text x="541.65" y="174.00" font-size="8.3" fill="#000" text-anchor="middle" font-weight="bold"  stroke="#000" stroke-width="0.2">0</text>
<line x1="572.99" y1="162.70" x2="572.99" y2="165.90" stroke="#1a1a1a" stroke-width="1.1" />
<text x="572.99" y="174.00" font-size="8.3" fill="#000" text-anchor="middle" font-weight="bold"  stroke="#000" stroke-width="0.2">2</text>
<line x1="604.34" y1="162.70" x2="604.34" y2="165.90" stroke="#1a1a1a" stroke-width="1.1" />
<text x="604.34" y="174.00" font-size="8.3" fill="#000" text-anchor="middle" font-weight="bold"  stroke="#000" stroke-width="0.2">4</text>
<line x1="635.68" y1="162.70" x2="635.68" y2="165.90" stroke="#1a1a1a" stroke-width="1.1" />
<text x="635.68" y="174.00" font-size="8.3" fill="#000" text-anchor="middle" font-weight="bold"  stroke="#000" stroke-width="0.2">6</text>
<line x1="667.03" y1="162.70" x2="667.03" y2="165.90" stroke="#1a1a1a" stroke-width="1.1" />
<text x="667.03" y="174.00" font-size="8.3" fill="#000" text-anchor="middle" font-weight="bold"  stroke="#000" stroke-width="0.2">8</text>
<line x1="525.97" y1="162.70" x2="525.97" y2="164.50" stroke="#1a1a1a" stroke-width="0.9" />
<line x1="557.32" y1="162.70" x2="557.32" y2="164.50" stroke="#1a1a1a" stroke-width="0.9" />
<line x1="588.66" y1="162.70" x2="588.66" y2="164.50" stroke="#1a1a1a" stroke-width="0.9" />
<line x1="620.01" y1="162.70" x2="620.01" y2="164.50" stroke="#1a1a1a" stroke-width="0.9" />
<line x1="651.35" y1="162.70" x2="651.35" y2="164.50" stroke="#1a1a1a" stroke-width="0.9" />
<polygon points="117.80,236.71 175.04,261.20 144.00,315.87 85.05,324.88 63.39,262.12" fill="#d0d0d0" stroke="none"/>
<polygon points="117.80,264.94 131.93,275.21 126.53,291.82 109.07,291.82 103.67,275.21" fill="none" stroke="#a8a8a8" stroke-width="0.7"/>
<polygon points="117.80,250.08 146.07,270.62 135.27,303.84 100.33,303.84 89.53,270.62" fill="none" stroke="#a8a8a8" stroke-width="0.7"/>
<polygon points="117.80,235.22 160.20,266.02 144.00,315.87 91.60,315.87 75.40,266.02" fill="none" stroke="#a8a8a8" stroke-width="0.7"/>
<polygon points="117.80,220.36 174.33,261.43 152.74,327.89 82.86,327.89 61.27,261.43" fill="none" stroke="#a8a8a8" stroke-width="0.7"/>
<polygon points="117.80,205.50 188.46,256.84 161.47,339.91 74.13,339.91 47.14,256.84" fill="none" stroke="#a8a8a8" stroke-width="0.7"/>
<line x1="117.80" y1="279.80" x2="117.80" y2="205.50" stroke="#a8a8a8" stroke-width="0.7" />
<line x1="117.80" y1="279.80" x2="188.46" y2="256.84" stroke="#a8a8a8" stroke-width="0.7" />
<line x1="117.80" y1="279.80" x2="161.47" y2="339.91" stroke="#a8a8a8" stroke-width="0.7" />
<line x1="117.80" y1="279.80" x2="74.13" y2="339.91" stroke="#a8a8a8" stroke-width="0.7" />
<line x1="117.80" y1="279.80" x2="47.14" y2="256.84" stroke="#a8a8a8" stroke-width="0.7" />
<text x="116.60" y="278.80" font-size="8.4" fill="#888" text-anchor="end" font-weight="bold"  stroke="#888" stroke-width="0.2">0</text>
<text x="116.60" y="263.94" font-size="8.4" fill="#888" text-anchor="end" font-weight="bold"  stroke="#888" stroke-width="0.2">20</text>
<text x="116.60" y="249.08" font-size="8.4" fill="#888" text-anchor="end" font-weight="bold"  stroke="#888" stroke-width="0.2">40</text>
<text x="116.60" y="234.22" font-size="8.4" fill="#888" text-anchor="end" font-weight="bold"  stroke="#888" stroke-width="0.2">60</text>
<text x="116.60" y="219.36" font-size="8.4" fill="#888" text-anchor="end" font-weight="bold"  stroke="#888" stroke-width="0.2">80</text>
<text x="116.60" y="204.50" font-size="8.4" fill="#888" text-anchor="end" font-weight="bold"  stroke="#888" stroke-width="0.2">100</text>
<polygon points="117.80,246.37 176.45,260.74 141.82,312.86 81.99,329.09 64.80,262.58" fill="none" stroke="#111" stroke-width="1.5" stroke-linecap="round" stroke-dasharray="0.01 8.5"/>
<polygon points="117.80,230.76 181.40,259.14 140.95,311.66 90.29,317.67 90.24,270.85" fill="none" stroke="#8c763e" stroke-width="1.7" stroke-dasharray="3.5 6"/>
<polygon points="117.80,225.56 162.32,265.34 141.82,312.86 77.62,335.10 85.29,269.24" fill="none" stroke="#00008a" stroke-width="2.1" stroke-dasharray="5 6.5"/>
<polygon points="117.80,218.13 170.80,262.58 128.72,294.83 81.12,330.29 86.71,269.70" fill="#b00000" fill-opacity="0.34" stroke="none"/>
<text x="90.8" y="193.4" font-size="8.7" fill="#8c8c8c" font-weight="bold" stroke="#8c8c8c" stroke-width="0.2">O<tspan font-size="5.5" dy="2">2</tspan><tspan font-size="5.5" dy="-5.5">·−</tspan></text>
<text x="111.50" y="193.40" font-size="8.75" fill="#8c8c8c" text-anchor="start" font-weight="bold"  stroke="#8c8c8c" stroke-width="0.2">scavenging</text>
<text x="24.00" y="266.80" font-size="8.7" fill="#8c8c8c" text-anchor="middle" font-weight="bold"  stroke="#8c8c8c" stroke-width="0.2">DPPH</text>
<text x="24.30" y="277.40" font-size="8.75" fill="#8c8c8c" text-anchor="middle" font-weight="bold"  stroke="#8c8c8c" stroke-width="0.2">scavenging</text>
<text x="207.9" y="270.5" font-size="8.7" fill="#8c8c8c" text-anchor="middle" font-weight="bold" stroke="#8c8c8c" stroke-width="0.2">H<tspan font-size="5.5" dy="2">2</tspan><tspan dy="-2">O</tspan><tspan font-size="5.5" dy="2">2</tspan></text>
<text x="209.60" y="283.50" font-size="8.75" fill="#8c8c8c" text-anchor="middle" font-weight="bold"  stroke="#8c8c8c" stroke-width="0.2">scavenging</text>
<text x="186.40" y="330.00" font-size="9.0" fill="#8c8c8c" text-anchor="middle" font-weight="bold"  stroke="#8c8c8c" stroke-width="0.2">·OH</text>
<text x="189.90" y="341.00" font-size="8.75" fill="#8c8c8c" text-anchor="middle" font-weight="bold"  stroke="#8c8c8c" stroke-width="0.2">scavenging</text>
<text x="43.60" y="327.80" font-size="9.0" fill="#8c8c8c" text-anchor="middle" font-weight="bold"  stroke="#8c8c8c" stroke-width="0.2">NO·</text>
<text x="42.80" y="338.50" font-size="8.75" fill="#8c8c8c" text-anchor="middle" font-weight="bold"  stroke="#8c8c8c" stroke-width="0.2">scavenging</text>
<path d="M296.70 344.70V289.66H315.10V344.70" fill="none" stroke="#0e0e0e" stroke-width="1.9"/>
<path d="M326.60 344.70V262.75H345.00V344.70" fill="none" stroke="#8c763e" stroke-width="1.9"/>
<path d="M356.30 344.70V273.98H374.70V344.70" fill="none" stroke="#7f7f7f" stroke-width="1.9"/>
<path d="M385.90 344.70V255.10H404.30V344.70" fill="none" stroke="#00008a" stroke-width="1.9"/>
<path d="M416.00 344.70V243.25H434.40V344.70" fill="none" stroke="#ba0610" stroke-width="1.9"/>
<line x1="305.90" y1="300.27" x2="305.90" y2="279.04" stroke="#0e0e0e" stroke-width="0.9" />
<line x1="301.30" y1="300.27" x2="310.50" y2="300.27" stroke="#0e0e0e" stroke-width="0.9" />
<line x1="301.30" y1="279.04" x2="310.50" y2="279.04" stroke="#0e0e0e" stroke-width="0.9" />
<circle cx="302.70" cy="294.10" r="1.85" fill="#0e0e0e"/>
<circle cx="309.10" cy="294.10" r="1.85" fill="#0e0e0e"/>
<circle cx="305.90" cy="277.44" r="1.85" fill="#0e0e0e"/>
<line x1="335.80" y1="267.69" x2="335.80" y2="257.81" stroke="#8c763e" stroke-width="0.9" />
<line x1="331.20" y1="267.69" x2="340.40" y2="267.69" stroke="#8c763e" stroke-width="0.9" />
<line x1="331.20" y1="257.81" x2="340.40" y2="257.81" stroke="#8c763e" stroke-width="0.9" />
<circle cx="335.80" cy="257.81" r="1.85" fill="#8c763e"/>
<circle cx="335.80" cy="267.56" r="1.85" fill="#8c763e"/>
<circle cx="335.80" cy="262.75" r="1.85" fill="#8c763e"/>
<line x1="365.50" y1="275.83" x2="365.50" y2="272.13" stroke="#7f7f7f" stroke-width="0.9" />
<line x1="360.90" y1="275.83" x2="370.10" y2="275.83" stroke="#7f7f7f" stroke-width="0.9" />
<line x1="360.90" y1="272.13" x2="370.10" y2="272.13" stroke="#7f7f7f" stroke-width="0.9" />
<circle cx="363.00" cy="272.75" r="1.85" fill="#7f7f7f"/>
<circle cx="368.00" cy="273.37" r="1.85" fill="#7f7f7f"/>
<circle cx="365.50" cy="275.59" r="1.85" fill="#7f7f7f"/>
<line x1="395.10" y1="261.89" x2="395.10" y2="248.31" stroke="#00008a" stroke-width="0.9" />
<line x1="390.50" y1="261.89" x2="399.70" y2="261.89" stroke="#00008a" stroke-width="0.9" />
<line x1="390.50" y1="248.31" x2="399.70" y2="248.31" stroke="#00008a" stroke-width="0.9" />
<circle cx="392.10" cy="258.31" r="1.85" fill="#00008a"/>
<circle cx="398.10" cy="258.31" r="1.85" fill="#00008a"/>
<circle cx="395.10" cy="247.82" r="1.85" fill="#00008a"/>
<line x1="425.20" y1="248.68" x2="425.20" y2="237.82" stroke="#ba0610" stroke-width="0.9" />
<line x1="420.60" y1="248.68" x2="429.80" y2="248.68" stroke="#ba0610" stroke-width="0.9" />
<line x1="420.60" y1="237.82" x2="429.80" y2="237.82" stroke="#ba0610" stroke-width="0.9" />
<circle cx="422.20" cy="247.82" r="1.85" fill="#ba0610"/>
<circle cx="428.20" cy="246.21" r="1.85" fill="#ba0610"/>
<circle cx="425.20" cy="237.08" r="1.85" fill="#ba0610"/>
<rect x="285.9" y="196.6" width="159.5" height="148.1" fill="none" stroke="#1a1a1a" stroke-width="1.3"/>
<line x1="281.90" y1="344.70" x2="285.90" y2="344.70" stroke="#1a1a1a" stroke-width="1.1" />
<text x="280.90" y="347.40" font-size="8.3" fill="#000" text-anchor="end" font-weight="bold"  stroke="#000" stroke-width="0.2">0</text>
<line x1="281.90" y1="320.02" x2="285.90" y2="320.02" stroke="#1a1a1a" stroke-width="1.1" />
<text x="280.90" y="322.72" font-size="8.3" fill="#000" text-anchor="end" font-weight="bold"  stroke="#000" stroke-width="0.2">20</text>
<line x1="281.90" y1="295.33" x2="285.90" y2="295.33" stroke="#1a1a1a" stroke-width="1.1" />
<text x="280.90" y="298.03" font-size="8.3" fill="#000" text-anchor="end" font-weight="bold"  stroke="#000" stroke-width="0.2">40</text>
<line x1="281.90" y1="270.65" x2="285.90" y2="270.65" stroke="#1a1a1a" stroke-width="1.1" />
<text x="280.90" y="273.35" font-size="8.3" fill="#000" text-anchor="end" font-weight="bold"  stroke="#000" stroke-width="0.2">60</text>
<line x1="281.90" y1="245.97" x2="285.90" y2="245.97" stroke="#1a1a1a" stroke-width="1.1" />
<text x="280.90" y="248.67" font-size="8.3" fill="#000" text-anchor="end" font-weight="bold"  stroke="#000" stroke-width="0.2">80</text>
<line x1="281.90" y1="221.28" x2="285.90" y2="221.28" stroke="#1a1a1a" stroke-width="1.1" />
<text x="280.90" y="223.98" font-size="8.3" fill="#000" text-anchor="end" font-weight="bold"  stroke="#000" stroke-width="0.2">100</text>
<line x1="281.90" y1="196.60" x2="285.90" y2="196.60" stroke="#1a1a1a" stroke-width="1.1" />
<text x="280.90" y="199.30" font-size="8.3" fill="#000" text-anchor="end" font-weight="bold"  stroke="#000" stroke-width="0.2">120</text>
<line x1="305.90" y1="344.70" x2="305.90" y2="349.20" stroke="#1a1a1a" stroke-width="1.2" />
<line x1="335.80" y1="344.70" x2="335.80" y2="349.20" stroke="#1a1a1a" stroke-width="1.2" />
<line x1="365.50" y1="344.70" x2="365.50" y2="349.20" stroke="#1a1a1a" stroke-width="1.2" />
<line x1="395.10" y1="344.70" x2="395.10" y2="349.20" stroke="#1a1a1a" stroke-width="1.2" />
<line x1="425.20" y1="344.70" x2="425.20" y2="349.20" stroke="#1a1a1a" stroke-width="1.2" />
<path d="M305.50 211.00V205.50H423.00V211.00" fill="none" stroke="#1a1a1a" stroke-width="1.05"/>
<polygon points="363.20,199.90 363.79,201.39 365.39,201.49 364.15,202.51 364.55,204.06 363.20,203.20 361.85,204.06 362.25,202.51 361.01,201.49 362.61,201.39" fill="#111"/>
<polygon points="366.80,199.90 367.39,201.39 368.99,201.49 367.75,202.51 368.15,204.06 366.80,203.20 365.45,204.06 365.85,202.51 364.61,201.49 366.21,201.39" fill="#111"/>
<path d="M337.00 219.00V213.50H423.00V219.00" fill="none" stroke="#1a1a1a" stroke-width="1.05"/>
<polygon points="378.50,207.90 379.09,209.39 380.69,209.49 379.45,210.51 379.85,212.06 378.50,211.20 377.15,212.06 377.55,210.51 376.31,209.49 377.91,209.39" fill="#111"/>
<polygon points="382.10,207.90 382.69,209.39 384.29,209.49 383.05,210.51 383.45,212.06 382.10,211.20 380.75,212.06 381.15,210.51 379.91,209.49 381.51,209.39" fill="#111"/>
<path d="M367.00 227.00V221.50H423.00V227.00" fill="none" stroke="#1a1a1a" stroke-width="1.05"/>
<polygon points="390.90,215.90 391.49,217.39 393.09,217.49 391.85,218.51 392.25,220.06 390.90,219.20 389.55,220.06 389.95,218.51 388.71,217.49 390.31,217.39" fill="#111"/>
<polygon points="394.50,215.90 395.09,217.39 396.69,217.49 395.45,218.51 395.85,220.06 394.50,219.20 393.15,220.06 393.55,218.51 392.31,217.49 393.91,217.39" fill="#111"/>
<polygon points="398.10,215.90 398.69,217.39 400.29,217.49 399.05,218.51 399.45,220.06 398.10,219.20 396.75,220.06 397.15,218.51 395.91,217.49 397.51,217.39" fill="#111"/>
<path d="M394.00 236.00V230.50H423.00V236.00" fill="none" stroke="#1a1a1a" stroke-width="1.05"/>
<text x="408.80" y="228.90" font-size="7.7" fill="#111" text-anchor="middle" font-weight="bold"  stroke="#111" stroke-width="0.2">NS</text>
<text x="289.0" y="208.2" font-size="8.8" font-weight="bold" stroke="#000" stroke-width="0.2">O<tspan font-size="5.6" dy="1.8">2</tspan><tspan font-size="5.2" dy="-5.6">•-</tspan></text>
<text transform="translate(261.6,270.65) rotate(-90)" x="0" y="0" font-size="8.7" text-anchor="middle" font-weight="bold" stroke="#000" stroke-width="0.2">O<tspan font-size="5.5" dy="2">2</tspan><tspan font-size="5.5" dy="-5">·−</tspan><tspan dy="3"> Scavenging Activity(%)</tspan></text>
<path d="M535.80 344.70V242.51H554.20V344.70" fill="none" stroke="#0e0e0e" stroke-width="1.9"/>
<path d="M565.50 344.70V233.75H583.90V344.70" fill="none" stroke="#8c763e" stroke-width="1.9"/>
<path d="M595.40 344.70V245.10H613.80V344.70" fill="none" stroke="#7f7f7f" stroke-width="1.9"/>
<path d="M625.00 344.70V267.69H643.40V344.70" fill="none" stroke="#00008a" stroke-width="1.9"/>
<path d="M655.20 344.70V252.26H673.60V344.70" fill="none" stroke="#ba0610" stroke-width="1.9"/>
<line x1="545.00" y1="245.84" x2="545.00" y2="239.18" stroke="#0e0e0e" stroke-width="0.9" />
<line x1="540.40" y1="245.84" x2="549.60" y2="245.84" stroke="#0e0e0e" stroke-width="0.9" />
<line x1="540.40" y1="239.18" x2="549.60" y2="239.18" stroke="#0e0e0e" stroke-width="0.9" />
<circle cx="541.40" cy="239.18" r="1.85" fill="#0e0e0e"/>
<circle cx="542.00" cy="244.49" r="1.85" fill="#0e0e0e"/>
<circle cx="547.50" cy="241.89" r="1.85" fill="#0e0e0e"/>
<line x1="574.70" y1="240.17" x2="574.70" y2="227.33" stroke="#8c763e" stroke-width="0.9" />
<line x1="570.10" y1="240.17" x2="579.30" y2="240.17" stroke="#8c763e" stroke-width="0.9" />
<line x1="570.10" y1="227.33" x2="579.30" y2="227.33" stroke="#8c763e" stroke-width="0.9" />
<circle cx="571.70" cy="236.83" r="1.85" fill="#8c763e"/>
<circle cx="577.10" cy="236.83" r="1.85" fill="#8c763e"/>
<circle cx="574.70" cy="225.73" r="1.85" fill="#8c763e"/>
<line x1="604.60" y1="248.81" x2="604.60" y2="241.40" stroke="#7f7f7f" stroke-width="0.9" />
<line x1="600.00" y1="248.81" x2="609.20" y2="248.81" stroke="#7f7f7f" stroke-width="0.9" />
<line x1="600.00" y1="241.40" x2="609.20" y2="241.40" stroke="#7f7f7f" stroke-width="0.9" />
<circle cx="601.20" cy="241.03" r="1.85" fill="#7f7f7f"/>
<circle cx="607.70" cy="242.76" r="1.85" fill="#7f7f7f"/>
<circle cx="604.60" cy="248.19" r="1.85" fill="#7f7f7f"/>
<line x1="634.20" y1="272.50" x2="634.20" y2="262.87" stroke="#00008a" stroke-width="0.9" />
<line x1="629.60" y1="272.50" x2="638.80" y2="272.50" stroke="#00008a" stroke-width="0.9" />
<line x1="629.60" y1="262.87" x2="638.80" y2="262.87" stroke="#00008a" stroke-width="0.9" />
<circle cx="631.20" cy="263.49" r="1.85" fill="#00008a"/>
<circle cx="637.30" cy="263.49" r="1.85" fill="#00008a"/>
<circle cx="634.20" cy="272.25" r="1.85" fill="#00008a"/>
<line x1="664.40" y1="258.43" x2="664.40" y2="246.09" stroke="#ba0610" stroke-width="0.9" />
<line x1="659.80" y1="258.43" x2="669.00" y2="258.43" stroke="#ba0610" stroke-width="0.9" />
<line x1="659.80" y1="246.09" x2="669.00" y2="246.09" stroke="#ba0610" stroke-width="0.9" />
<circle cx="664.40" cy="244.12" r="1.85" fill="#ba0610"/>
<circle cx="661.00" cy="256.21" r="1.85" fill="#ba0610"/>
<circle cx="667.50" cy="253.99" r="1.85" fill="#ba0610"/>
<rect x="525.2" y="196.6" width="159.0999999999999" height="148.1" fill="none" stroke="#1a1a1a" stroke-width="1.3"/>
<line x1="521.20" y1="344.70" x2="525.20" y2="344.70" stroke="#1a1a1a" stroke-width="1.1" />
<text x="520.20" y="347.40" font-size="8.3" fill="#000" text-anchor="end" font-weight="bold"  stroke="#000" stroke-width="0.2">0</text>
<line x1="521.20" y1="320.02" x2="525.20" y2="320.02" stroke="#1a1a1a" stroke-width="1.1" />
<text x="520.20" y="322.72" font-size="8.3" fill="#000" text-anchor="end" font-weight="bold"  stroke="#000" stroke-width="0.2">20</text>
<line x1="521.20" y1="295.33" x2="525.20" y2="295.33" stroke="#1a1a1a" stroke-width="1.1" />
<text x="520.20" y="298.03" font-size="8.3" fill="#000" text-anchor="end" font-weight="bold"  stroke="#000" stroke-width="0.2">40</text>
<line x1="521.20" y1="270.65" x2="525.20" y2="270.65" stroke="#1a1a1a" stroke-width="1.1" />
<text x="520.20" y="273.35" font-size="8.3" fill="#000" text-anchor="end" font-weight="bold"  stroke="#000" stroke-width="0.2">60</text>
<line x1="521.20" y1="245.97" x2="525.20" y2="245.97" stroke="#1a1a1a" stroke-width="1.1" />
<text x="520.20" y="248.67" font-size="8.3" fill="#000" text-anchor="end" font-weight="bold"  stroke="#000" stroke-width="0.2">80</text>
<line x1="521.20" y1="221.28" x2="525.20" y2="221.28" stroke="#1a1a1a" stroke-width="1.1" />
<text x="520.20" y="223.98" font-size="8.3" fill="#000" text-anchor="end" font-weight="bold"  stroke="#000" stroke-width="0.2">100</text>
<line x1="521.20" y1="196.60" x2="525.20" y2="196.60" stroke="#1a1a1a" stroke-width="1.1" />
<text x="520.20" y="199.30" font-size="8.3" fill="#000" text-anchor="end" font-weight="bold"  stroke="#000" stroke-width="0.2">120</text>
<line x1="545.00" y1="344.70" x2="545.00" y2="349.20" stroke="#1a1a1a" stroke-width="1.2" />
<line x1="574.70" y1="344.70" x2="574.70" y2="349.20" stroke="#1a1a1a" stroke-width="1.2" />
<line x1="604.60" y1="344.70" x2="604.60" y2="349.20" stroke="#1a1a1a" stroke-width="1.2" />
<line x1="634.20" y1="344.70" x2="634.20" y2="349.20" stroke="#1a1a1a" stroke-width="1.2" />
<line x1="664.40" y1="344.70" x2="664.40" y2="349.20" stroke="#1a1a1a" stroke-width="1.2" />
<path d="M543.50 211.10V206.50H604.30V211.10" fill="none" stroke="#1a1a1a" stroke-width="1.05"/>
<text x="575.20" y="204.90" font-size="7.7" fill="#111" text-anchor="middle" font-weight="bold"  stroke="#111" stroke-width="0.2">NS</text>
<path d="M574.70 221.10V216.50H604.30V221.10" fill="none" stroke="#1a1a1a" stroke-width="1.05"/>
<polygon points="591.00,210.90 591.59,212.39 593.19,212.49 591.95,213.51 592.35,215.06 591.00,214.20 589.65,215.06 590.05,213.51 588.81,212.49 590.41,212.39" fill="#111"/>
<path d="M603.60 227.10V222.50H664.00V227.10" fill="none" stroke="#1a1a1a" stroke-width="1.05"/>
<text x="634.00" y="220.90" font-size="7.7" fill="#111" text-anchor="middle" font-weight="bold"  stroke="#111" stroke-width="0.2">NS</text>
<path d="M603.60 236.10V231.50H633.70V236.10" fill="none" stroke="#1a1a1a" stroke-width="1.05"/>
<polygon points="618.70,225.90 619.29,227.39 620.89,227.49 619.65,228.51 620.05,230.06 618.70,229.20 617.35,230.06 617.75,228.51 616.51,227.49 618.11,227.39" fill="#111"/>
<polygon points="622.30,225.90 622.89,227.39 624.49,227.49 623.25,228.51 623.65,230.06 622.30,229.20 620.95,230.06 621.35,228.51 620.11,227.49 621.71,227.39" fill="#111"/>
<text x="660.8" y="207.5" font-size="8.6" font-weight="bold" stroke="#000" stroke-width="0.2">H<tspan font-size="5" dy="1.8">2</tspan><tspan dy="-1.8">O</tspan><tspan font-size="5" dy="1.8">2</tspan></text>
<text transform="translate(500.0,270.65) rotate(-90)" x="0" y="0" font-size="8.7" text-anchor="middle" font-weight="bold" stroke="#000" stroke-width="0.2">H<tspan font-size="5.5" dy="2">2</tspan><tspan dy="-2">O</tspan><tspan font-size="5.5" dy="2">2</tspan><tspan dy="-2"> Scavenging Activity(%)</tspan></text>
<path d="M57.50 520.20V452.38H75.90V520.20" fill="none" stroke="#0e0e0e" stroke-width="1.9"/>
<path d="M87.30 520.20V455.21H105.70V520.20" fill="none" stroke="#8c763e" stroke-width="1.9"/>
<path d="M117.40 520.20V447.46H135.80V520.20" fill="none" stroke="#7f7f7f" stroke-width="1.9"/>
<path d="M147.10 520.20V453.00H165.50V520.20" fill="none" stroke="#00008a" stroke-width="1.9"/>
<path d="M176.80 520.20V490.17H195.20V520.20" fill="none" stroke="#ba0610" stroke-width="1.9"/>
<line x1="66.70" y1="458.29" x2="66.70" y2="446.47" stroke="#0e0e0e" stroke-width="0.9" />
<line x1="62.10" y1="458.29" x2="71.30" y2="458.29" stroke="#0e0e0e" stroke-width="0.9" />
<line x1="62.10" y1="446.47" x2="71.30" y2="446.47" stroke="#0e0e0e" stroke-width="0.9" />
<circle cx="66.70" cy="445.73" r="1.85" fill="#0e0e0e"/>
<circle cx="66.70" cy="452.38" r="1.85" fill="#0e0e0e"/>
<circle cx="66.70" cy="457.30" r="1.85" fill="#0e0e0e"/>
<line x1="96.50" y1="461.98" x2="96.50" y2="448.44" stroke="#8c763e" stroke-width="0.9" />
<line x1="91.90" y1="461.98" x2="101.10" y2="461.98" stroke="#8c763e" stroke-width="0.9" />
<line x1="91.90" y1="448.44" x2="101.10" y2="448.44" stroke="#8c763e" stroke-width="0.9" />
<circle cx="96.50" cy="446.23" r="1.85" fill="#8c763e"/>
<circle cx="93.80" cy="459.40" r="1.85" fill="#8c763e"/>
<circle cx="99.80" cy="456.57" r="1.85" fill="#8c763e"/>
<line x1="126.60" y1="456.20" x2="126.60" y2="438.72" stroke="#7f7f7f" stroke-width="0.9" />
<line x1="122.00" y1="456.20" x2="131.20" y2="456.20" stroke="#7f7f7f" stroke-width="0.9" />
<line x1="122.00" y1="438.72" x2="131.20" y2="438.72" stroke="#7f7f7f" stroke-width="0.9" />
<circle cx="126.20" cy="436.50" r="1.85" fill="#7f7f7f"/>
<circle cx="123.40" cy="451.77" r="1.85" fill="#7f7f7f"/>
<circle cx="129.30" cy="451.77" r="1.85" fill="#7f7f7f"/>
<line x1="156.30" y1="455.21" x2="156.30" y2="450.78" stroke="#00008a" stroke-width="0.9" />
<line x1="151.70" y1="455.21" x2="160.90" y2="455.21" stroke="#00008a" stroke-width="0.9" />
<line x1="151.70" y1="450.78" x2="160.90" y2="450.78" stroke="#00008a" stroke-width="0.9" />
<circle cx="152.90" cy="451.15" r="1.85" fill="#00008a"/>
<circle cx="159.00" cy="451.77" r="1.85" fill="#00008a"/>
<circle cx="156.30" cy="455.09" r="1.85" fill="#00008a"/>
<line x1="186.00" y1="492.38" x2="186.00" y2="487.95" stroke="#ba0610" stroke-width="0.9" />
<line x1="181.40" y1="492.38" x2="190.60" y2="492.38" stroke="#ba0610" stroke-width="0.9" />
<line x1="181.40" y1="487.95" x2="190.60" y2="487.95" stroke="#ba0610" stroke-width="0.9" />
<circle cx="182.90" cy="487.34" r="1.85" fill="#ba0610"/>
<circle cx="189.00" cy="488.69" r="1.85" fill="#ba0610"/>
<circle cx="182.90" cy="492.51" r="1.85" fill="#ba0610"/>
<rect x="47.1" y="372.5" width="159.1" height="147.70000000000005" fill="none" stroke="#1a1a1a" stroke-width="1.3"/>
<line x1="43.10" y1="520.20" x2="47.10" y2="520.20" stroke="#1a1a1a" stroke-width="1.1" />
<text x="42.10" y="522.90" font-size="8.3" fill="#000" text-anchor="end" font-weight="bold"  stroke="#000" stroke-width="0.2">0</text>
<line x1="43.10" y1="495.58" x2="47.10" y2="495.58" stroke="#1a1a1a" stroke-width="1.1" />
<text x="42.10" y="498.28" font-size="8.3" fill="#000" text-anchor="end" font-weight="bold"  stroke="#000" stroke-width="0.2">20</text>
<line x1="43.10" y1="470.97" x2="47.10" y2="470.97" stroke="#1a1a1a" stroke-width="1.1" />
<text x="42.10" y="473.67" font-size="8.3" fill="#000" text-anchor="end" font-weight="bold"  stroke="#000" stroke-width="0.2">40</text>
<line x1="43.10" y1="446.35" x2="47.10" y2="446.35" stroke="#1a1a1a" stroke-width="1.1" />
<text x="42.10" y="449.05" font-size="8.3" fill="#000" text-anchor="end" font-weight="bold"  stroke="#000" stroke-width="0.2">60</text>
<line x1="43.10" y1="421.73" x2="47.10" y2="421.73" stroke="#1a1a1a" stroke-width="1.1" />
<text x="42.10" y="424.43" font-size="8.3" fill="#000" text-anchor="end" font-weight="bold"  stroke="#000" stroke-width="0.2">80</text>
<line x1="43.10" y1="397.12" x2="47.10" y2="397.12" stroke="#1a1a1a" stroke-width="1.1" />
<text x="42.10" y="399.82" font-size="8.3" fill="#000" text-anchor="end" font-weight="bold"  stroke="#000" stroke-width="0.2">100</text>
<line x1="43.10" y1="372.50" x2="47.10" y2="372.50" stroke="#1a1a1a" stroke-width="1.1" />
<text x="42.10" y="375.20" font-size="8.3" fill="#000" text-anchor="end" font-weight="bold"  stroke="#000" stroke-width="0.2">120</text>
<line x1="66.70" y1="520.20" x2="66.70" y2="524.70" stroke="#1a1a1a" stroke-width="1.2" />
<line x1="96.50" y1="520.20" x2="96.50" y2="524.70" stroke="#1a1a1a" stroke-width="1.2" />
<line x1="126.60" y1="520.20" x2="126.60" y2="524.70" stroke="#1a1a1a" stroke-width="1.2" />
<line x1="156.30" y1="520.20" x2="156.30" y2="524.70" stroke="#1a1a1a" stroke-width="1.2" />
<line x1="186.00" y1="520.20" x2="186.00" y2="524.70" stroke="#1a1a1a" stroke-width="1.2" />
<path d="M65.80 408.00V402.50H126.60V408.00" fill="none" stroke="#1a1a1a" stroke-width="1.05"/>
<text x="97.40" y="400.90" font-size="7.7" fill="#111" text-anchor="middle" font-weight="bold"  stroke="#111" stroke-width="0.2">NS</text>
<path d="M97.40 417.00V411.50H126.60V417.00" fill="none" stroke="#1a1a1a" stroke-width="1.05"/>
<text x="111.80" y="409.90" font-size="7.7" fill="#111" text-anchor="middle" font-weight="bold"  stroke="#111" stroke-width="0.2">NS</text>
<path d="M126.60 424.00V418.50H183.70V424.00" fill="none" stroke="#1a1a1a" stroke-width="1.05"/>
<polygon points="153.30,412.90 153.89,414.39 155.49,414.49 154.25,415.51 154.65,417.06 153.30,416.20 151.95,417.06 152.35,415.51 151.11,414.49 152.71,414.39" fill="#111"/>
<polygon points="156.90,412.90 157.49,414.39 159.09,414.49 157.85,415.51 158.25,417.06 156.90,416.20 155.55,417.06 155.95,415.51 154.71,414.49 156.31,414.39" fill="#111"/>
<path d="M126.60 433.00V427.50H156.10V433.00" fill="none" stroke="#1a1a1a" stroke-width="1.05"/>
<text x="141.00" y="425.90" font-size="7.7" fill="#111" text-anchor="middle" font-weight="bold"  stroke="#111" stroke-width="0.2">NS</text>
<text x="52.8" y="383.1" font-size="8.5" font-weight="bold" stroke="#000" stroke-width="0.2">•OH</text>
<text transform="translate(23.8,446.35) rotate(-90)" x="0" y="0" font-size="8.7" text-anchor="middle" font-weight="bold" stroke="#000" stroke-width="0.2">•OH Scavenging Activity(%)</text>
<path d="M296.70 520.20V420.63H315.10V520.20" fill="none" stroke="#0e0e0e" stroke-width="1.9"/>
<path d="M326.60 520.20V442.66H345.00V520.20" fill="none" stroke="#8c763e" stroke-width="1.9"/>
<path d="M356.30 520.20V428.87H374.70V520.20" fill="none" stroke="#7f7f7f" stroke-width="1.9"/>
<path d="M385.90 520.20V405.24H404.30V520.20" fill="none" stroke="#00008a" stroke-width="1.9"/>
<path d="M416.00 520.20V416.93H434.40V520.20" fill="none" stroke="#ba0610" stroke-width="1.9"/>
<line x1="305.90" y1="423.09" x2="305.90" y2="418.16" stroke="#0e0e0e" stroke-width="0.9" />
<line x1="301.30" y1="423.09" x2="310.50" y2="423.09" stroke="#0e0e0e" stroke-width="0.9" />
<line x1="301.30" y1="418.16" x2="310.50" y2="418.16" stroke="#0e0e0e" stroke-width="0.9" />
<circle cx="302.00" cy="417.43" r="1.85" fill="#0e0e0e"/>
<circle cx="302.70" cy="422.47" r="1.85" fill="#0e0e0e"/>
<circle cx="308.60" cy="419.27" r="1.85" fill="#0e0e0e"/>
<line x1="335.80" y1="451.27" x2="335.80" y2="434.04" stroke="#8c763e" stroke-width="0.9" />
<line x1="331.20" y1="451.27" x2="340.40" y2="451.27" stroke="#8c763e" stroke-width="0.9" />
<line x1="331.20" y1="434.04" x2="340.40" y2="434.04" stroke="#8c763e" stroke-width="0.9" />
<circle cx="335.80" cy="433.92" r="1.85" fill="#8c763e"/>
<circle cx="335.80" cy="440.93" r="1.85" fill="#8c763e"/>
<circle cx="335.80" cy="450.66" r="1.85" fill="#8c763e"/>
<line x1="365.50" y1="430.35" x2="365.50" y2="427.40" stroke="#7f7f7f" stroke-width="0.9" />
<line x1="360.90" y1="430.35" x2="370.10" y2="430.35" stroke="#7f7f7f" stroke-width="0.9" />
<line x1="360.90" y1="427.40" x2="370.10" y2="427.40" stroke="#7f7f7f" stroke-width="0.9" />
<circle cx="359.60" cy="429.98" r="1.85" fill="#7f7f7f"/>
<circle cx="365.50" cy="427.40" r="1.85" fill="#7f7f7f"/>
<circle cx="372.10" cy="427.76" r="1.85" fill="#7f7f7f"/>
<line x1="395.10" y1="410.66" x2="395.10" y2="399.82" stroke="#00008a" stroke-width="0.9" />
<line x1="390.50" y1="410.66" x2="399.70" y2="410.66" stroke="#00008a" stroke-width="0.9" />
<line x1="390.50" y1="399.82" x2="399.70" y2="399.82" stroke="#00008a" stroke-width="0.9" />
<circle cx="395.10" cy="399.09" r="1.85" fill="#00008a"/>
<circle cx="395.10" cy="405.49" r="1.85" fill="#00008a"/>
<circle cx="395.10" cy="409.92" r="1.85" fill="#00008a"/>
<line x1="425.20" y1="419.15" x2="425.20" y2="414.72" stroke="#ba0610" stroke-width="0.9" />
<line x1="420.60" y1="419.15" x2="429.80" y2="419.15" stroke="#ba0610" stroke-width="0.9" />
<line x1="420.60" y1="414.72" x2="429.80" y2="414.72" stroke="#ba0610" stroke-width="0.9" />
<circle cx="425.20" cy="413.61" r="1.85" fill="#ba0610"/>
<circle cx="422.00" cy="418.04" r="1.85" fill="#ba0610"/>
<circle cx="428.40" cy="417.30" r="1.85" fill="#ba0610"/>
<rect x="286.4" y="372.5" width="159.0" height="147.70000000000005" fill="none" stroke="#1a1a1a" stroke-width="1.3"/>
<line x1="282.40" y1="520.20" x2="286.40" y2="520.20" stroke="#1a1a1a" stroke-width="1.1" />
<text x="281.40" y="522.90" font-size="8.3" fill="#000" text-anchor="end" font-weight="bold"  stroke="#000" stroke-width="0.2">0</text>
<line x1="282.40" y1="495.58" x2="286.40" y2="495.58" stroke="#1a1a1a" stroke-width="1.1" />
<text x="281.40" y="498.28" font-size="8.3" fill="#000" text-anchor="end" font-weight="bold"  stroke="#000" stroke-width="0.2">20</text>
<line x1="282.40" y1="470.97" x2="286.40" y2="470.97" stroke="#1a1a1a" stroke-width="1.1" />
<text x="281.40" y="473.67" font-size="8.3" fill="#000" text-anchor="end" font-weight="bold"  stroke="#000" stroke-width="0.2">40</text>
<line x1="282.40" y1="446.35" x2="286.40" y2="446.35" stroke="#1a1a1a" stroke-width="1.1" />
<text x="281.40" y="449.05" font-size="8.3" fill="#000" text-anchor="end" font-weight="bold"  stroke="#000" stroke-width="0.2">60</text>
<line x1="282.40" y1="421.73" x2="286.40" y2="421.73" stroke="#1a1a1a" stroke-width="1.1" />
<text x="281.40" y="424.43" font-size="8.3" fill="#000" text-anchor="end" font-weight="bold"  stroke="#000" stroke-width="0.2">80</text>
<line x1="282.40" y1="397.12" x2="286.40" y2="397.12" stroke="#1a1a1a" stroke-width="1.1" />
<text x="281.40" y="399.82" font-size="8.3" fill="#000" text-anchor="end" font-weight="bold"  stroke="#000" stroke-width="0.2">100</text>
<line x1="282.40" y1="372.50" x2="286.40" y2="372.50" stroke="#1a1a1a" stroke-width="1.1" />
<text x="281.40" y="375.20" font-size="8.3" fill="#000" text-anchor="end" font-weight="bold"  stroke="#000" stroke-width="0.2">120</text>
<line x1="305.90" y1="520.20" x2="305.90" y2="524.70" stroke="#1a1a1a" stroke-width="1.2" />
<line x1="335.80" y1="520.20" x2="335.80" y2="524.70" stroke="#1a1a1a" stroke-width="1.2" />
<line x1="365.50" y1="520.20" x2="365.50" y2="524.70" stroke="#1a1a1a" stroke-width="1.2" />
<line x1="395.10" y1="520.20" x2="395.10" y2="524.70" stroke="#1a1a1a" stroke-width="1.2" />
<line x1="425.20" y1="520.20" x2="425.20" y2="524.70" stroke="#1a1a1a" stroke-width="1.2" />
<path d="M309.30 383.00V378.50H393.90V383.00" fill="none" stroke="#1a1a1a" stroke-width="1.05"/>
<polygon points="353.60,372.90 354.19,374.39 355.79,374.49 354.55,375.51 354.95,377.06 353.60,376.20 352.25,377.06 352.65,375.51 351.41,374.49 353.01,374.39" fill="#111"/>
<path d="M335.40 390.00V385.50H393.90V390.00" fill="none" stroke="#1a1a1a" stroke-width="1.05"/>
<polygon points="363.90,379.90 364.49,381.39 366.09,381.49 364.85,382.51 365.25,384.06 363.90,383.20 362.55,384.06 362.95,382.51 361.71,381.49 363.31,381.39" fill="#111"/>
<polygon points="367.50,379.90 368.09,381.39 369.69,381.49 368.45,382.51 368.85,384.06 367.50,383.20 366.15,384.06 366.55,382.51 365.31,381.49 366.91,381.39" fill="#111"/>
<path d="M364.30 396.00V391.50H393.90V396.00" fill="none" stroke="#1a1a1a" stroke-width="1.05"/>
<polygon points="378.00,385.90 378.59,387.39 380.19,387.49 378.95,388.51 379.35,390.06 378.00,389.20 376.65,390.06 377.05,388.51 375.81,387.49 377.41,387.39" fill="#111"/>
<polygon points="381.60,385.90 382.19,387.39 383.79,387.49 382.55,388.51 382.95,390.06 381.60,389.20 380.25,390.06 380.65,388.51 379.41,387.49 381.01,387.39" fill="#111"/>
<path d="M396.90 396.00V391.50H425.80V396.00" fill="none" stroke="#1a1a1a" stroke-width="1.05"/>
<polygon points="412.30,385.90 412.89,387.39 414.49,387.49 413.25,388.51 413.65,390.06 412.30,389.20 410.95,390.06 411.35,388.51 410.11,387.49 411.71,387.39" fill="#111"/>
<text x="289.2" y="383.1" font-size="8.5" font-weight="bold" stroke="#000" stroke-width="0.2">NO•</text>
<text transform="translate(263.2,446.35) rotate(-90)" x="0" y="0" font-size="8.7" text-anchor="middle" font-weight="bold" stroke="#000" stroke-width="0.2">NO• Scavenging Activity(%)</text>
<path d="M535.80 520.20V428.63H554.20V520.20" fill="none" stroke="#0e0e0e" stroke-width="1.9"/>
<path d="M565.50 520.20V473.06H583.90V520.20" fill="none" stroke="#8c763e" stroke-width="1.9"/>
<path d="M595.40 520.20V425.55H613.80V520.20" fill="none" stroke="#7f7f7f" stroke-width="1.9"/>
<path d="M625.00 520.20V464.57H643.40V520.20" fill="none" stroke="#00008a" stroke-width="1.9"/>
<path d="M655.20 520.20V466.90H673.60V520.20" fill="none" stroke="#ba0610" stroke-width="1.9"/>
<line x1="545.00" y1="429.24" x2="545.00" y2="428.01" stroke="#0e0e0e" stroke-width="0.9" />
<line x1="540.40" y1="429.24" x2="549.60" y2="429.24" stroke="#0e0e0e" stroke-width="0.9" />
<line x1="540.40" y1="428.01" x2="549.60" y2="428.01" stroke="#0e0e0e" stroke-width="0.9" />
<circle cx="537.70" cy="427.52" r="1.85" fill="#0e0e0e"/>
<circle cx="544.90" cy="427.52" r="1.85" fill="#0e0e0e"/>
<circle cx="551.90" cy="427.52" r="1.85" fill="#0e0e0e"/>
<line x1="574.70" y1="473.55" x2="574.70" y2="472.57" stroke="#8c763e" stroke-width="0.9" />
<line x1="570.10" y1="473.55" x2="579.30" y2="473.55" stroke="#8c763e" stroke-width="0.9" />
<line x1="570.10" y1="472.57" x2="579.30" y2="472.57" stroke="#8c763e" stroke-width="0.9" />
<circle cx="567.20" cy="472.44" r="1.85" fill="#8c763e"/>
<circle cx="574.90" cy="472.44" r="1.85" fill="#8c763e"/>
<circle cx="581.50" cy="472.44" r="1.85" fill="#8c763e"/>
<line x1="604.60" y1="426.29" x2="604.60" y2="424.81" stroke="#7f7f7f" stroke-width="0.9" />
<line x1="600.00" y1="426.29" x2="609.20" y2="426.29" stroke="#7f7f7f" stroke-width="0.9" />
<line x1="600.00" y1="424.81" x2="609.20" y2="424.81" stroke="#7f7f7f" stroke-width="0.9" />
<circle cx="597.90" cy="424.56" r="1.85" fill="#7f7f7f"/>
<circle cx="604.40" cy="424.56" r="1.85" fill="#7f7f7f"/>
<circle cx="611.50" cy="424.56" r="1.85" fill="#7f7f7f"/>
<line x1="634.20" y1="468.63" x2="634.20" y2="460.50" stroke="#00008a" stroke-width="0.9" />
<line x1="629.60" y1="468.63" x2="638.80" y2="468.63" stroke="#00008a" stroke-width="0.9" />
<line x1="629.60" y1="460.50" x2="638.80" y2="460.50" stroke="#00008a" stroke-width="0.9" />
<circle cx="631.20" cy="459.52" r="1.85" fill="#00008a"/>
<circle cx="637.70" cy="461.74" r="1.85" fill="#00008a"/>
<circle cx="634.20" cy="467.64" r="1.85" fill="#00008a"/>
<line x1="664.40" y1="470.60" x2="664.40" y2="463.21" stroke="#ba0610" stroke-width="0.9" />
<line x1="659.80" y1="470.60" x2="669.00" y2="470.60" stroke="#ba0610" stroke-width="0.9" />
<line x1="659.80" y1="463.21" x2="669.00" y2="463.21" stroke="#ba0610" stroke-width="0.9" />
<circle cx="664.40" cy="461.74" r="1.85" fill="#ba0610"/>
<circle cx="664.40" cy="469.00" r="1.85" fill="#ba0610"/>
<circle cx="664.40" cy="466.17" r="1.85" fill="#ba0610"/>
<rect x="525.2" y="372.5" width="159.0999999999999" height="147.70000000000005" fill="none" stroke="#1a1a1a" stroke-width="1.3"/>
<line x1="521.20" y1="520.20" x2="525.20" y2="520.20" stroke="#1a1a1a" stroke-width="1.1" />
<text x="520.20" y="522.90" font-size="8.3" fill="#000" text-anchor="end" font-weight="bold"  stroke="#000" stroke-width="0.2">0</text>
<line x1="521.20" y1="495.58" x2="525.20" y2="495.58" stroke="#1a1a1a" stroke-width="1.1" />
<text x="520.20" y="498.28" font-size="8.3" fill="#000" text-anchor="end" font-weight="bold"  stroke="#000" stroke-width="0.2">20</text>
<line x1="521.20" y1="470.97" x2="525.20" y2="470.97" stroke="#1a1a1a" stroke-width="1.1" />
<text x="520.20" y="473.67" font-size="8.3" fill="#000" text-anchor="end" font-weight="bold"  stroke="#000" stroke-width="0.2">40</text>
<line x1="521.20" y1="446.35" x2="525.20" y2="446.35" stroke="#1a1a1a" stroke-width="1.1" />
<text x="520.20" y="449.05" font-size="8.3" fill="#000" text-anchor="end" font-weight="bold"  stroke="#000" stroke-width="0.2">60</text>
<line x1="521.20" y1="421.73" x2="525.20" y2="421.73" stroke="#1a1a1a" stroke-width="1.1" />
<text x="520.20" y="424.43" font-size="8.3" fill="#000" text-anchor="end" font-weight="bold"  stroke="#000" stroke-width="0.2">80</text>
<line x1="521.20" y1="397.12" x2="525.20" y2="397.12" stroke="#1a1a1a" stroke-width="1.1" />
<text x="520.20" y="399.82" font-size="8.3" fill="#000" text-anchor="end" font-weight="bold"  stroke="#000" stroke-width="0.2">100</text>
<line x1="521.20" y1="372.50" x2="525.20" y2="372.50" stroke="#1a1a1a" stroke-width="1.1" />
<text x="520.20" y="375.20" font-size="8.3" fill="#000" text-anchor="end" font-weight="bold"  stroke="#000" stroke-width="0.2">120</text>
<line x1="545.00" y1="520.20" x2="545.00" y2="524.70" stroke="#1a1a1a" stroke-width="1.2" />
<line x1="574.70" y1="520.20" x2="574.70" y2="524.70" stroke="#1a1a1a" stroke-width="1.2" />
<line x1="604.60" y1="520.20" x2="604.60" y2="524.70" stroke="#1a1a1a" stroke-width="1.2" />
<line x1="634.20" y1="520.20" x2="634.20" y2="524.70" stroke="#1a1a1a" stroke-width="1.2" />
<line x1="664.40" y1="520.20" x2="664.40" y2="524.70" stroke="#1a1a1a" stroke-width="1.2" />
<path d="M545.70 397.50V393.50H604.80V397.50" fill="none" stroke="#1a1a1a" stroke-width="1.05"/>
<polygon points="575.80,387.90 576.39,389.39 577.99,389.49 576.75,390.51 577.15,392.06 575.80,391.20 574.45,392.06 574.85,390.51 573.61,389.49 575.21,389.39" fill="#111"/>
<polygon points="579.40,387.90 579.99,389.39 581.59,389.49 580.35,390.51 580.75,392.06 579.40,391.20 578.05,392.06 578.45,390.51 577.21,389.49 578.81,389.39" fill="#111"/>
<path d="M575.20 409.50V405.50H604.80V409.50" fill="none" stroke="#1a1a1a" stroke-width="1.05"/>
<polygon points="585.60,399.90 586.19,401.39 587.79,401.49 586.55,402.51 586.95,404.06 585.60,403.20 584.25,404.06 584.65,402.51 583.41,401.49 585.01,401.39" fill="#111"/>
<polygon points="589.20,399.90 589.79,401.39 591.39,401.49 590.15,402.51 590.55,404.06 589.20,403.20 587.85,404.06 588.25,402.51 587.01,401.49 588.61,401.39" fill="#111"/>
<polygon points="592.80,399.90 593.39,401.39 594.99,401.49 593.75,402.51 594.15,404.06 592.80,403.20 591.45,404.06 591.85,402.51 590.61,401.49 592.21,401.39" fill="#111"/>
<polygon points="596.40,399.90 596.99,401.39 598.59,401.49 597.35,402.51 597.75,404.06 596.40,403.20 595.05,404.06 595.45,402.51 594.21,401.49 595.81,401.39" fill="#111"/>
<path d="M604.80 403.50V399.50H661.20V403.50" fill="none" stroke="#1a1a1a" stroke-width="1.05"/>
<polygon points="628.60,393.90 629.19,395.39 630.79,395.49 629.55,396.51 629.95,398.06 628.60,397.20 627.25,398.06 627.65,396.51 626.41,395.49 628.01,395.39" fill="#111"/>
<polygon points="632.20,393.90 632.79,395.39 634.39,395.49 633.15,396.51 633.55,398.06 632.20,397.20 630.85,398.06 631.25,396.51 630.01,395.49 631.61,395.39" fill="#111"/>
<polygon points="635.80,393.90 636.39,395.39 637.99,395.49 636.75,396.51 637.15,398.06 635.80,397.20 634.45,398.06 634.85,396.51 633.61,395.49 635.21,395.39" fill="#111"/>
<polygon points="639.40,393.90 639.99,395.39 641.59,395.49 640.35,396.51 640.75,398.06 639.40,397.20 638.05,398.06 638.45,396.51 637.21,395.49 638.81,395.39" fill="#111"/>
<path d="M604.80 417.50V413.50H635.30V417.50" fill="none" stroke="#1a1a1a" stroke-width="1.05"/>
<polygon points="615.10,407.90 615.69,409.39 617.29,409.49 616.05,410.51 616.45,412.06 615.10,411.20 613.75,412.06 614.15,410.51 612.91,409.49 614.51,409.39" fill="#111"/>
<polygon points="618.70,407.90 619.29,409.39 620.89,409.49 619.65,410.51 620.05,412.06 618.70,411.20 617.35,412.06 617.75,410.51 616.51,409.49 618.11,409.39" fill="#111"/>
<polygon points="622.30,407.90 622.89,409.39 624.49,409.49 623.25,410.51 623.65,412.06 622.30,411.20 620.95,412.06 621.35,410.51 620.11,409.49 621.71,409.39" fill="#111"/>
<polygon points="625.90,407.90 626.49,409.39 628.09,409.49 626.85,410.51 627.25,412.06 625.90,411.20 624.55,412.06 624.95,410.51 623.71,409.49 625.31,409.39" fill="#111"/>
<text x="529.8" y="383.1" font-size="8.4" font-weight="bold" stroke="#000" stroke-width="0.2">DPPH</text>
<text transform="translate(501.7,446.35) rotate(-90)" x="0" y="0" font-size="8.7" text-anchor="middle" font-weight="bold" stroke="#000" stroke-width="0.2">DPPH Scavenging Activity(%)</text>
<text x="10.30" y="11.90" font-size="16.4" fill="#000" text-anchor="start" font-weight="bold"  stroke="#000" stroke-width="0.2">A</text>
<text x="245.20" y="11.80" font-size="16.4" fill="#000" text-anchor="start" font-weight="bold"  stroke="#000" stroke-width="0.2">B</text>
<text x="489.00" y="11.90" font-size="16.4" fill="#000" text-anchor="start" font-weight="bold"  stroke="#000" stroke-width="0.2">C</text>
<text x="9.50" y="202.20" font-size="16.4" fill="#000" text-anchor="start" font-weight="bold"  stroke="#000" stroke-width="0.2">D</text>
<text x="245.10" y="202.10" font-size="16.4" fill="#000" text-anchor="start" font-weight="bold"  stroke="#000" stroke-width="0.2">E</text>
<text x="488.40" y="202.00" font-size="16.4" fill="#000" text-anchor="start" font-weight="bold"  stroke="#000" stroke-width="0.2">F</text>
<text x="10.30" y="368.20" font-size="16.4" fill="#000" text-anchor="start" font-weight="bold"  stroke="#000" stroke-width="0.2">G</text>
<text x="245.10" y="368.10" font-size="16.4" fill="#000" text-anchor="start" font-weight="bold"  stroke="#000" stroke-width="0.2">H</text>
<text x="489.10" y="367.90" font-size="16.4" fill="#000" text-anchor="start" font-weight="bold"  stroke="#000" stroke-width="0.2">I</text>
</svg></body></html>
